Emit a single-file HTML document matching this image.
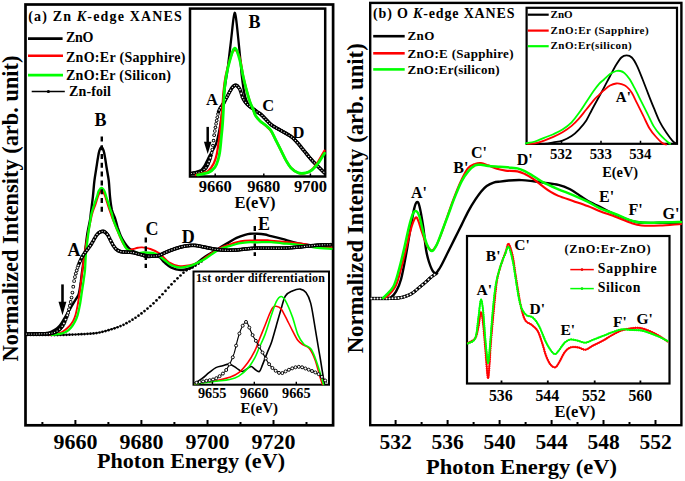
<!DOCTYPE html>
<html><head><meta charset="utf-8"><style>
html,body{margin:0;padding:0;background:#fff;width:685px;height:481px;overflow:hidden}
svg{display:block}
text{font-family:"Liberation Serif",serif;font-weight:bold;fill:#000}
</style></head><body>
<svg width="685" height="481" viewBox="0 0 685 481">
<!-- ===== Y labels ===== -->
<text transform="translate(18,361.5) rotate(-90)" font-size="22.5" textLength="306" lengthAdjust="spacingAndGlyphs">Normalized Intensity (arb. unit)</text>
<text transform="translate(362.5,353.3) rotate(-90)" font-size="22.8" textLength="310" lengthAdjust="spacingAndGlyphs">Normalized Intensity (arb. unit)</text>

<!-- ===== Panel A frame ===== -->
<g id="pa">
<rect x="25.5" y="4.5" width="307.6" height="420.8" fill="none" stroke="#000" stroke-width="2.7"/>
<g stroke="#000" stroke-width="2">
<path d="M42.4 425V422 M75.4 425V420 M108.4 425V422 M141.4 425V420 M174.4 425V422 M207.5 425V420 M240.5 425V422 M273.5 425V420 M306.5 425V422"/>
</g>
<g font-size="22" text-anchor="middle">
<text x="75.4" y="448.5">9660</text><text x="141.4" y="448.5">9680</text><text x="207.5" y="448.5">9700</text><text x="273.5" y="448.5">9720</text>
</g>
<text x="97" y="468" font-size="22" textLength="188" lengthAdjust="spacingAndGlyphs">Photon Energy (eV)</text>
<text x="28.3" y="20.8" font-size="14" textLength="153.5" lengthAdjust="spacing">(a) Zn <tspan font-style="italic">K</tspan>-edge XANES</text>
<g stroke-width="2.6" fill="none">
<path d="M28 38.6H62.6" stroke="#000"/>
<path d="M28 55.8H63" stroke="#f00"/>
<path d="M28 75.1H63" stroke="#0f0"/>
<path d="M31.7 91.5H64.8" stroke="#000" stroke-width="1.6"/>
</g>
<circle cx="48.4" cy="91.5" r="1.6" fill="#000"/>
<g font-size="14">
<text x="66" y="42.4" textLength="27.5">ZnO</text>
<text x="66" y="61.9" textLength="119.5" lengthAdjust="spacing">ZnO:Er (Sapphire)</text>
<text x="66" y="79.9" textLength="105" lengthAdjust="spacing">ZnO:Er (Silicon)</text>
<text x="69" y="96.3" textLength="42" lengthAdjust="spacing">Zn-foil</text>
</g>
<path d="M27.0 335.0C30.0 335.0 39.5 335.0 45.0 335.0C50.5 335.0 53.3 335.2 60.0 335.0C66.7 334.8 78.3 334.4 85.0 334.0C91.7 333.6 94.4 333.6 100.0 332.4C105.6 331.2 115.6 327.7 118.7 326.8" fill="none" stroke="#000" stroke-width="0.9"/><g fill="#000"><circle cx="27.50" cy="335.00" r="1.35"/><circle cx="30.50" cy="335.00" r="1.35"/><circle cx="33.50" cy="335.00" r="1.35"/><circle cx="36.50" cy="335.00" r="1.35"/><circle cx="39.50" cy="335.00" r="1.35"/><circle cx="42.50" cy="335.00" r="1.35"/><circle cx="45.50" cy="335.00" r="1.35"/><circle cx="48.50" cy="335.02" r="1.35"/><circle cx="51.50" cy="335.06" r="1.35"/><circle cx="54.50" cy="335.07" r="1.35"/><circle cx="57.50" cy="335.05" r="1.35"/><circle cx="60.50" cy="334.99" r="1.35"/><circle cx="63.50" cy="334.90" r="1.35"/><circle cx="66.50" cy="334.81" r="1.35"/><circle cx="69.50" cy="334.71" r="1.35"/><circle cx="72.50" cy="334.60" r="1.35"/><circle cx="75.50" cy="334.48" r="1.35"/><circle cx="78.50" cy="334.35" r="1.35"/><circle cx="81.50" cy="334.20" r="1.35"/><circle cx="84.50" cy="334.03" r="1.35"/><circle cx="87.50" cy="333.85" r="1.35"/><circle cx="90.50" cy="333.67" r="1.35"/><circle cx="93.50" cy="333.43" r="1.35"/><circle cx="96.50" cy="333.05" r="1.35"/><circle cx="99.50" cy="332.50" r="1.35"/><circle cx="102.50" cy="331.82" r="1.35"/><circle cx="105.50" cy="331.03" r="1.35"/><circle cx="108.50" cy="330.17" r="1.35"/><circle cx="111.50" cy="329.26" r="1.35"/><circle cx="114.50" cy="328.28" r="1.35"/><circle cx="117.50" cy="327.24" r="1.35"/><circle cx="120.50" cy="326.10" r="1.35"/><circle cx="123.50" cy="324.78" r="1.35"/><circle cx="126.50" cy="323.22" r="1.35"/><circle cx="129.50" cy="321.49" r="1.35"/><circle cx="132.50" cy="319.69" r="1.35"/><circle cx="135.50" cy="317.76" r="1.35"/><circle cx="138.50" cy="315.68" r="1.35"/><circle cx="141.50" cy="313.47" r="1.35"/><circle cx="144.50" cy="311.11" r="1.35"/><circle cx="147.50" cy="308.61" r="1.35"/><circle cx="150.50" cy="306.00" r="1.35"/><circle cx="153.50" cy="303.29" r="1.35"/><circle cx="156.50" cy="300.42" r="1.35"/><circle cx="159.50" cy="297.39" r="1.35"/><circle cx="162.50" cy="294.26" r="1.35"/><circle cx="165.50" cy="290.95" r="1.35"/><circle cx="168.50" cy="287.56" r="1.35"/><circle cx="171.50" cy="284.28" r="1.35"/><circle cx="174.50" cy="281.23" r="1.35"/><circle cx="177.50" cy="278.33" r="1.35"/><circle cx="180.50" cy="275.48" r="1.35"/><circle cx="183.50" cy="272.69" r="1.35"/><circle cx="186.50" cy="270.33" r="1.35"/><circle cx="189.50" cy="268.81" r="1.35"/><circle cx="192.50" cy="267.48" r="1.35"/><circle cx="195.50" cy="265.62" r="1.35"/><circle cx="198.50" cy="263.56" r="1.35"/><circle cx="201.50" cy="261.42" r="1.35"/></g><path d="M26.5 333.8C28.8 333.8 36.8 333.7 40.0 333.6C43.2 333.5 44.3 333.4 46.0 333.2C47.7 333.0 48.8 332.8 50.0 332.4C51.2 332.0 51.8 331.5 53.0 330.8C54.2 330.1 56.1 329.2 57.5 328.0C58.9 326.8 60.0 325.4 61.2 323.6C62.5 321.8 63.8 319.5 65.0 317.4C66.2 315.3 67.5 313.3 68.7 311.2C69.9 309.1 71.2 307.0 72.4 304.9C73.7 302.8 75.2 300.3 76.2 298.7C77.2 297.1 77.8 296.4 78.4 295.0C79.0 293.6 79.2 292.2 79.6 290.0C80.0 287.8 80.3 285.3 80.8 282.0C81.2 278.7 81.6 274.8 82.3 270.0C83.0 265.2 83.9 259.1 84.8 253.0C85.7 246.9 86.5 238.8 87.4 233.3C88.3 227.8 89.4 223.3 90.0 220.0C90.6 216.7 90.3 217.2 90.8 213.3C91.3 209.4 92.3 202.0 92.9 196.6C93.5 191.2 93.8 185.5 94.4 180.8C95.0 176.1 95.7 172.1 96.3 168.3C96.9 164.5 97.4 160.9 97.9 158.0C98.4 155.1 98.8 152.5 99.4 150.7C100.0 148.9 100.8 147.3 101.5 147.3C102.2 147.3 103.0 148.9 103.6 150.7C104.2 152.5 104.6 155.1 105.1 158.0C105.6 160.9 106.1 164.5 106.7 168.3C107.3 172.1 108.2 176.1 108.8 180.8C109.3 185.5 109.5 191.7 110.0 196.6C110.5 201.5 111.1 206.4 111.9 210.0C112.8 213.6 114.1 215.4 115.1 218.3C116.1 221.2 116.8 224.8 117.7 227.7C118.7 230.6 119.6 233.4 120.8 236.0C122.0 238.6 123.5 241.1 124.9 243.2C126.3 245.3 127.7 247.1 129.1 248.4C130.5 249.7 131.4 250.1 133.2 251.0C135.0 251.9 137.9 252.6 140.0 253.6C142.1 254.6 143.2 256.5 145.7 257.0C148.2 257.5 152.7 256.4 155.0 256.5C157.3 256.6 158.1 256.3 159.7 257.3C161.3 258.3 162.4 260.7 164.4 262.4C166.4 264.1 168.7 266.3 171.4 267.6C174.1 268.9 177.6 269.9 180.7 270.0C183.8 270.1 187.7 269.1 190.1 268.2C192.5 267.3 192.4 266.4 195.0 264.5C197.6 262.6 201.9 259.0 205.4 256.6C208.9 254.3 213.0 252.1 215.8 250.4C218.6 248.7 219.8 247.6 222.0 246.2C224.2 244.8 226.9 243.5 229.3 242.1C231.7 240.7 234.0 239.1 236.6 237.9C239.2 236.7 242.7 235.5 245.0 234.8C247.3 234.1 248.1 233.9 250.2 233.7C252.3 233.5 254.9 233.6 257.4 233.7C259.9 233.8 262.7 234.1 265.0 234.5C267.3 234.9 268.2 235.4 271.1 236.1C274.0 236.8 278.5 237.9 282.2 238.9C285.9 239.9 289.6 241.3 293.3 242.2C297.0 243.1 300.7 243.8 304.4 244.4C308.1 245.0 311.0 245.4 315.5 245.5C320.0 245.6 328.8 245.1 331.5 245.0" fill="none" stroke="#000" stroke-width="2.4" stroke-linejoin="round" stroke-linecap="round"/><path d="M50.0 334.6C51.0 334.5 54.3 334.1 56.0 333.8C57.7 333.5 58.5 333.6 60.0 333.0C61.5 332.4 63.5 331.0 65.0 329.9C66.5 328.8 68.0 327.6 69.3 326.1C70.6 324.6 72.0 323.0 73.0 321.1C74.0 319.2 74.7 317.6 75.5 314.9C76.3 312.2 77.0 308.6 77.7 304.9C78.4 301.2 79.1 296.6 79.7 292.5C80.3 288.4 80.7 283.8 81.2 280.0C81.7 276.2 81.9 274.5 82.5 270.0C83.1 265.5 83.8 258.7 84.6 253.0C85.4 247.3 86.8 240.5 87.6 236.0C88.4 231.5 88.9 228.8 89.5 226.0C90.1 223.2 90.5 221.2 91.0 219.0C91.5 216.8 91.8 214.9 92.6 212.5C93.3 210.1 94.5 207.4 95.5 204.5C96.5 201.6 97.5 197.3 98.5 195.0C99.5 192.7 100.6 190.5 101.6 190.5C102.6 190.5 103.7 192.9 104.6 195.0C105.5 197.1 106.3 200.2 107.2 203.0C108.1 205.8 109.0 208.7 110.0 211.5C111.0 214.3 111.8 216.8 113.0 220.0C114.2 223.2 116.1 227.6 117.5 231.0C118.9 234.4 120.3 237.9 121.6 240.5C122.8 243.1 123.9 244.9 125.0 246.5C126.1 248.1 126.7 249.6 128.1 250.0C129.5 250.4 131.5 249.4 133.2 249.0C134.8 248.6 136.5 248.1 138.0 247.8C139.5 247.5 140.1 247.2 142.2 247.4C144.3 247.6 147.5 248.0 150.4 249.0C153.3 250.0 156.6 251.4 159.7 253.6C162.8 255.8 165.9 260.3 169.0 262.4C172.1 264.4 174.9 265.4 178.4 265.9C181.9 266.4 186.5 266.0 190.1 265.3C193.7 264.6 197.4 262.8 200.0 261.5C202.6 260.2 202.8 259.3 205.4 257.5C208.0 255.7 213.0 252.2 215.8 250.5C218.6 248.8 219.8 248.2 222.0 247.2C224.2 246.2 226.2 245.6 229.3 244.6C232.4 243.6 237.0 242.0 240.8 241.3C244.6 240.6 248.2 240.6 252.2 240.4C256.2 240.2 261.9 240.1 265.0 240.1C268.1 240.1 266.4 240.3 271.1 240.7C275.8 241.1 287.4 242.1 293.3 242.7C299.2 243.3 302.5 243.7 306.6 244.4C310.7 245.1 313.6 246.5 317.7 247.0C321.8 247.5 329.2 247.2 331.5 247.3" fill="none" stroke="#f00" stroke-width="1.9" stroke-linejoin="round" stroke-linecap="round"/><path d="M52.0 334.8C53.3 334.6 57.6 334.4 60.0 333.9C62.4 333.4 64.3 332.8 66.2 331.7C68.1 330.6 69.8 329.0 71.2 327.4C72.7 325.8 73.8 323.9 74.9 321.8C76.0 319.7 76.9 317.7 77.7 314.9C78.5 312.1 79.2 308.6 79.9 304.9C80.6 301.2 81.2 296.6 81.8 292.5C82.4 288.4 83.2 283.8 83.7 280.0C84.2 276.2 84.6 274.5 85.0 270.0C85.4 265.5 85.4 259.2 86.0 253.0C86.6 246.8 87.7 238.5 88.4 233.0C89.1 227.5 89.9 223.3 90.4 220.0C90.9 216.7 91.0 215.8 91.6 213.3C92.2 210.8 93.2 207.8 94.1 205.0C95.0 202.2 96.2 199.0 97.0 196.6C97.8 194.2 98.0 192.2 98.8 190.8C99.6 189.4 100.7 187.9 101.6 187.9C102.5 187.9 103.6 189.6 104.4 191.0C105.2 192.4 105.5 194.4 106.2 196.6C106.9 198.8 107.9 201.8 108.6 204.0C109.3 206.2 109.9 208.3 110.5 210.0C111.1 211.7 111.5 212.3 112.0 214.0C112.5 215.7 112.5 217.6 113.5 220.4C114.5 223.2 116.3 227.5 117.7 230.8C119.1 234.1 120.6 237.5 121.8 240.1C123.0 242.7 124.0 244.8 124.9 246.4C125.9 248.0 126.5 248.7 127.5 249.5C128.5 250.3 129.3 250.9 131.0 251.5C132.7 252.1 135.4 252.8 137.5 253.0C139.6 253.2 140.9 252.5 143.4 252.5C145.9 252.5 150.2 252.5 152.7 253.0C155.2 253.5 156.6 254.2 158.5 255.4C160.4 256.6 162.2 258.4 164.4 260.0C166.6 261.6 168.7 264.0 171.4 265.3C174.1 266.6 177.6 267.5 180.7 267.6C183.8 267.7 187.7 266.5 190.1 265.9C192.5 265.3 192.4 265.1 195.0 263.9C197.6 262.7 201.9 260.8 205.4 258.7C208.9 256.6 213.0 253.1 215.8 251.4C218.6 249.7 219.8 249.2 222.0 248.3C224.2 247.4 226.5 247.0 229.3 246.2C232.1 245.4 235.8 244.0 238.7 243.3C241.6 242.7 243.9 242.5 247.0 242.3C250.1 242.1 254.4 242.3 257.4 242.3C260.4 242.3 262.7 242.1 265.0 242.1C267.3 242.1 268.2 242.0 271.1 242.2C274.0 242.4 278.5 243.0 282.2 243.3C285.9 243.6 289.6 243.7 293.3 244.1C297.0 244.5 300.7 244.9 304.4 245.5C308.1 246.1 311.0 247.1 315.5 247.7C320.0 248.3 328.8 248.7 331.5 248.9" fill="none" stroke="#0f0" stroke-width="2.3" stroke-linejoin="round" stroke-linecap="round"/><g fill="#000"><circle cx="26.50" cy="334.00" r="1.85"/><circle cx="27.35" cy="334.00" r="1.85"/><circle cx="28.20" cy="333.99" r="1.85"/><circle cx="29.05" cy="333.99" r="1.85"/><circle cx="29.90" cy="333.99" r="1.85"/><circle cx="30.75" cy="333.98" r="1.85"/><circle cx="31.60" cy="333.98" r="1.85"/><circle cx="32.45" cy="333.98" r="1.85"/><circle cx="33.30" cy="333.97" r="1.85"/><circle cx="34.15" cy="333.97" r="1.85"/><circle cx="35.00" cy="333.96" r="1.85"/><circle cx="35.85" cy="333.96" r="1.85"/><circle cx="36.70" cy="333.95" r="1.85"/><circle cx="37.55" cy="333.94" r="1.85"/><circle cx="38.40" cy="333.93" r="1.85"/><circle cx="39.25" cy="333.91" r="1.85"/><circle cx="40.10" cy="333.90" r="1.85"/><circle cx="40.95" cy="333.88" r="1.85"/><circle cx="41.80" cy="333.86" r="1.85"/><circle cx="42.65" cy="333.83" r="1.85"/><circle cx="43.50" cy="333.80" r="1.85"/><circle cx="44.35" cy="333.77" r="1.85"/><circle cx="45.20" cy="333.74" r="1.85"/><circle cx="46.05" cy="333.69" r="1.85"/><circle cx="46.90" cy="333.64" r="1.85"/><circle cx="47.75" cy="333.58" r="1.85"/><circle cx="48.60" cy="333.51" r="1.85"/><circle cx="49.45" cy="333.42" r="1.85"/><circle cx="50.30" cy="333.32" r="1.85"/><circle cx="51.15" cy="333.20" r="1.85"/><circle cx="52.00" cy="333.04" r="1.85"/><circle cx="52.85" cy="332.84" r="1.85"/><circle cx="53.70" cy="332.60" r="1.85"/><circle cx="54.55" cy="332.31" r="1.85"/><circle cx="55.40" cy="331.96" r="1.85"/><circle cx="56.25" cy="331.54" r="1.85"/><circle cx="57.10" cy="331.05" r="1.85"/><circle cx="57.95" cy="330.50" r="1.85"/><circle cx="58.80" cy="329.87" r="1.85"/><circle cx="59.65" cy="329.14" r="1.85"/><circle cx="60.50" cy="328.30" r="1.85"/><circle cx="61.35" cy="327.35" r="1.85"/><circle cx="62.20" cy="326.25" r="1.85"/><circle cx="63.05" cy="324.98" r="1.85"/><circle cx="63.90" cy="323.46" r="1.85"/><circle cx="64.75" cy="321.66" r="1.85"/><circle cx="65.60" cy="319.60" r="1.85"/><circle cx="66.45" cy="317.27" r="1.85"/><circle cx="67.30" cy="315.19" r="1.85"/><circle cx="68.15" cy="312.84" r="1.85"/><circle cx="69.00" cy="309.33" r="1.85"/><circle cx="69.85" cy="305.70" r="1.85"/><circle cx="70.70" cy="301.92" r="1.85"/><circle cx="71.55" cy="297.58" r="1.85"/><circle cx="72.40" cy="292.57" r="1.85"/><circle cx="73.25" cy="286.63" r="1.85"/><circle cx="74.10" cy="280.99" r="1.85"/><circle cx="74.95" cy="277.05" r="1.85"/><circle cx="75.80" cy="273.54" r="1.85"/><circle cx="76.65" cy="270.50" r="1.85"/><circle cx="77.50" cy="267.83" r="1.85"/><circle cx="78.35" cy="265.41" r="1.85"/><circle cx="79.20" cy="263.22" r="1.85"/><circle cx="80.05" cy="261.21" r="1.85"/><circle cx="80.90" cy="259.31" r="1.85"/><circle cx="81.75" cy="257.62" r="1.85"/><circle cx="82.60" cy="256.13" r="1.85"/><circle cx="83.45" cy="254.77" r="1.85"/><circle cx="84.30" cy="253.54" r="1.85"/><circle cx="85.15" cy="252.39" r="1.85"/><circle cx="86.00" cy="251.28" r="1.85"/><circle cx="86.85" cy="250.19" r="1.85"/><circle cx="87.70" cy="249.10" r="1.85"/><circle cx="88.55" cy="248.00" r="1.85"/><circle cx="89.40" cy="246.87" r="1.85"/><circle cx="90.25" cy="245.70" r="1.85"/><circle cx="91.10" cy="244.45" r="1.85"/><circle cx="91.95" cy="243.07" r="1.85"/><circle cx="92.80" cy="241.59" r="1.85"/><circle cx="93.65" cy="240.06" r="1.85"/><circle cx="94.50" cy="238.53" r="1.85"/><circle cx="95.35" cy="237.05" r="1.85"/><circle cx="96.20" cy="235.69" r="1.85"/><circle cx="97.05" cy="234.51" r="1.85"/><circle cx="97.90" cy="233.58" r="1.85"/><circle cx="98.75" cy="232.83" r="1.85"/><circle cx="99.60" cy="232.25" r="1.85"/><circle cx="100.45" cy="231.81" r="1.85"/><circle cx="101.30" cy="231.51" r="1.85"/><circle cx="102.15" cy="231.34" r="1.85"/><circle cx="103.00" cy="231.30" r="1.85"/><circle cx="103.85" cy="231.43" r="1.85"/><circle cx="104.70" cy="231.83" r="1.85"/><circle cx="105.55" cy="232.48" r="1.85"/><circle cx="106.40" cy="233.35" r="1.85"/><circle cx="107.25" cy="234.34" r="1.85"/><circle cx="108.10" cy="235.55" r="1.85"/><circle cx="108.95" cy="237.15" r="1.85"/><circle cx="109.80" cy="238.92" r="1.85"/><circle cx="110.65" cy="240.57" r="1.85"/><circle cx="111.50" cy="242.20" r="1.85"/><circle cx="112.35" cy="243.83" r="1.85"/><circle cx="113.20" cy="245.33" r="1.85"/><circle cx="114.05" cy="246.62" r="1.85"/><circle cx="114.90" cy="247.77" r="1.85"/><circle cx="115.75" cy="248.74" r="1.85"/><circle cx="116.60" cy="249.50" r="1.85"/><circle cx="117.45" cy="250.12" r="1.85"/><circle cx="118.30" cy="250.64" r="1.85"/><circle cx="119.15" cy="251.05" r="1.85"/><circle cx="120.00" cy="251.37" r="1.85"/><circle cx="120.85" cy="251.61" r="1.85"/><circle cx="121.70" cy="251.77" r="1.85"/><circle cx="122.55" cy="251.87" r="1.85"/><circle cx="123.40" cy="251.93" r="1.85"/><circle cx="124.25" cy="251.97" r="1.85"/><circle cx="125.10" cy="252.00" r="1.85"/><circle cx="125.95" cy="252.04" r="1.85"/><circle cx="126.80" cy="252.08" r="1.85"/><circle cx="127.65" cy="252.15" r="1.85"/><circle cx="128.50" cy="252.19" r="1.85"/><circle cx="129.35" cy="252.23" r="1.85"/><circle cx="130.20" cy="252.27" r="1.85"/><circle cx="131.05" cy="252.33" r="1.85"/><circle cx="131.90" cy="252.41" r="1.85"/><circle cx="132.75" cy="252.52" r="1.85"/><circle cx="133.60" cy="252.68" r="1.85"/><circle cx="134.45" cy="252.86" r="1.85"/><circle cx="135.30" cy="253.08" r="1.85"/><circle cx="136.15" cy="253.31" r="1.85"/><circle cx="137.00" cy="253.55" r="1.85"/><circle cx="137.85" cy="253.79" r="1.85"/><circle cx="138.70" cy="254.03" r="1.85"/><circle cx="139.55" cy="254.26" r="1.85"/><circle cx="140.40" cy="254.47" r="1.85"/><circle cx="141.25" cy="254.65" r="1.85"/><circle cx="142.10" cy="254.84" r="1.85"/><circle cx="142.95" cy="255.03" r="1.85"/><circle cx="143.80" cy="255.21" r="1.85"/><circle cx="144.65" cy="255.39" r="1.85"/><circle cx="145.50" cy="255.56" r="1.85"/><circle cx="146.35" cy="255.70" r="1.85"/><circle cx="147.20" cy="255.82" r="1.85"/><circle cx="148.05" cy="255.92" r="1.85"/><circle cx="148.90" cy="255.98" r="1.85"/><circle cx="149.75" cy="256.02" r="1.85"/><circle cx="150.60" cy="256.05" r="1.85"/><circle cx="151.45" cy="256.06" r="1.85"/><circle cx="152.30" cy="256.05" r="1.85"/><circle cx="153.15" cy="256.04" r="1.85"/><circle cx="154.00" cy="256.00" r="1.85"/><circle cx="154.85" cy="255.94" r="1.85"/><circle cx="155.70" cy="255.86" r="1.85"/><circle cx="156.55" cy="255.76" r="1.85"/><circle cx="157.40" cy="255.62" r="1.85"/><circle cx="158.25" cy="255.46" r="1.85"/><circle cx="159.10" cy="255.24" r="1.85"/><circle cx="159.95" cy="254.97" r="1.85"/><circle cx="160.80" cy="254.65" r="1.85"/><circle cx="161.65" cy="254.28" r="1.85"/><circle cx="162.50" cy="253.88" r="1.85"/><circle cx="163.35" cy="253.46" r="1.85"/><circle cx="164.20" cy="253.03" r="1.85"/><circle cx="165.05" cy="252.62" r="1.85"/><circle cx="165.90" cy="252.24" r="1.85"/><circle cx="166.75" cy="251.88" r="1.85"/><circle cx="167.60" cy="251.54" r="1.85"/><circle cx="168.45" cy="251.20" r="1.85"/><circle cx="169.30" cy="250.87" r="1.85"/><circle cx="170.15" cy="250.54" r="1.85"/><circle cx="171.00" cy="250.21" r="1.85"/><circle cx="171.85" cy="249.89" r="1.85"/><circle cx="172.70" cy="249.57" r="1.85"/><circle cx="173.55" cy="249.26" r="1.85"/><circle cx="174.40" cy="248.96" r="1.85"/><circle cx="175.25" cy="248.68" r="1.85"/><circle cx="176.10" cy="248.40" r="1.85"/><circle cx="176.95" cy="248.13" r="1.85"/><circle cx="177.80" cy="247.87" r="1.85"/><circle cx="178.65" cy="247.61" r="1.85"/><circle cx="179.50" cy="247.37" r="1.85"/><circle cx="180.35" cy="247.13" r="1.85"/><circle cx="181.20" cy="246.90" r="1.85"/><circle cx="182.05" cy="246.69" r="1.85"/><circle cx="182.90" cy="246.49" r="1.85"/><circle cx="183.75" cy="246.30" r="1.85"/><circle cx="184.60" cy="246.14" r="1.85"/><circle cx="185.45" cy="245.99" r="1.85"/><circle cx="186.30" cy="245.86" r="1.85"/><circle cx="187.15" cy="245.74" r="1.85"/><circle cx="188.00" cy="245.63" r="1.85"/><circle cx="188.85" cy="245.53" r="1.85"/><circle cx="189.70" cy="245.46" r="1.85"/><circle cx="190.55" cy="245.40" r="1.85"/><circle cx="191.40" cy="245.35" r="1.85"/><circle cx="192.25" cy="245.33" r="1.85"/><circle cx="193.10" cy="245.33" r="1.85"/><circle cx="193.95" cy="245.36" r="1.85"/><circle cx="194.80" cy="245.40" r="1.85"/><circle cx="195.65" cy="245.47" r="1.85"/><circle cx="196.50" cy="245.57" r="1.85"/><circle cx="197.35" cy="245.69" r="1.85"/><circle cx="198.20" cy="245.84" r="1.85"/><circle cx="199.05" cy="245.99" r="1.85"/><circle cx="199.90" cy="246.16" r="1.85"/><circle cx="200.75" cy="246.34" r="1.85"/><circle cx="201.60" cy="246.52" r="1.85"/><circle cx="202.45" cy="246.70" r="1.85"/><circle cx="203.30" cy="246.88" r="1.85"/><circle cx="204.15" cy="247.06" r="1.85"/><circle cx="205.00" cy="247.22" r="1.85"/><circle cx="205.85" cy="247.38" r="1.85"/><circle cx="206.70" cy="247.55" r="1.85"/><circle cx="207.55" cy="247.72" r="1.85"/><circle cx="208.40" cy="247.90" r="1.85"/><circle cx="209.25" cy="248.08" r="1.85"/><circle cx="210.10" cy="248.26" r="1.85"/><circle cx="210.95" cy="248.43" r="1.85"/><circle cx="211.80" cy="248.60" r="1.85"/><circle cx="212.65" cy="248.77" r="1.85"/><circle cx="213.50" cy="248.93" r="1.85"/><circle cx="214.35" cy="249.08" r="1.85"/><circle cx="215.20" cy="249.21" r="1.85"/><circle cx="216.05" cy="249.33" r="1.85"/><circle cx="216.90" cy="249.45" r="1.85"/><circle cx="217.75" cy="249.55" r="1.85"/><circle cx="218.60" cy="249.65" r="1.85"/><circle cx="219.45" cy="249.75" r="1.85"/><circle cx="220.30" cy="249.83" r="1.85"/><circle cx="221.15" cy="249.91" r="1.85"/><circle cx="222.00" cy="249.98" r="1.85"/><circle cx="222.85" cy="250.04" r="1.85"/><circle cx="223.70" cy="250.09" r="1.85"/><circle cx="224.55" cy="250.14" r="1.85"/><circle cx="225.40" cy="250.17" r="1.85"/><circle cx="226.25" cy="250.20" r="1.85"/><circle cx="227.10" cy="250.22" r="1.85"/><circle cx="227.95" cy="250.23" r="1.85"/><circle cx="228.80" cy="250.23" r="1.85"/><circle cx="229.65" cy="250.22" r="1.85"/><circle cx="230.50" cy="250.20" r="1.85"/><circle cx="231.35" cy="250.18" r="1.85"/><circle cx="232.20" cy="250.15" r="1.85"/><circle cx="233.05" cy="250.11" r="1.85"/><circle cx="233.90" cy="250.06" r="1.85"/><circle cx="234.75" cy="250.02" r="1.85"/><circle cx="235.60" cy="249.97" r="1.85"/><circle cx="236.45" cy="249.91" r="1.85"/><circle cx="237.30" cy="249.85" r="1.85"/><circle cx="238.15" cy="249.78" r="1.85"/><circle cx="239.00" cy="249.69" r="1.85"/><circle cx="239.85" cy="249.60" r="1.85"/><circle cx="240.70" cy="249.51" r="1.85"/><circle cx="241.55" cy="249.40" r="1.85"/><circle cx="242.40" cy="249.30" r="1.85"/><circle cx="243.25" cy="249.20" r="1.85"/><circle cx="244.10" cy="249.10" r="1.85"/><circle cx="244.95" cy="249.00" r="1.85"/><circle cx="245.80" cy="248.91" r="1.85"/><circle cx="246.65" cy="248.83" r="1.85"/><circle cx="247.50" cy="248.76" r="1.85"/><circle cx="248.35" cy="248.67" r="1.85"/><circle cx="249.20" cy="248.59" r="1.85"/><circle cx="250.05" cy="248.50" r="1.85"/><circle cx="250.90" cy="248.42" r="1.85"/><circle cx="251.75" cy="248.34" r="1.85"/><circle cx="252.60" cy="248.28" r="1.85"/><circle cx="253.45" cy="248.23" r="1.85"/><circle cx="254.30" cy="248.19" r="1.85"/><circle cx="255.15" cy="248.16" r="1.85"/><circle cx="256.00" cy="248.13" r="1.85"/><circle cx="256.85" cy="248.11" r="1.85"/><circle cx="257.70" cy="248.09" r="1.85"/><circle cx="258.55" cy="248.08" r="1.85"/><circle cx="259.40" cy="248.08" r="1.85"/><circle cx="260.25" cy="248.07" r="1.85"/><circle cx="261.10" cy="248.07" r="1.85"/><circle cx="261.95" cy="248.07" r="1.85"/><circle cx="262.80" cy="248.07" r="1.85"/><circle cx="263.65" cy="248.07" r="1.85"/><circle cx="264.50" cy="248.08" r="1.85"/><circle cx="265.35" cy="248.08" r="1.85"/><circle cx="266.20" cy="248.09" r="1.85"/><circle cx="267.05" cy="248.09" r="1.85"/><circle cx="267.90" cy="248.10" r="1.85"/><circle cx="268.75" cy="248.11" r="1.85"/><circle cx="269.60" cy="248.11" r="1.85"/><circle cx="270.45" cy="248.12" r="1.85"/><circle cx="271.30" cy="248.12" r="1.85"/><circle cx="272.15" cy="248.13" r="1.85"/><circle cx="273.00" cy="248.13" r="1.85"/><circle cx="273.85" cy="248.14" r="1.85"/><circle cx="274.70" cy="248.14" r="1.85"/><circle cx="275.55" cy="248.15" r="1.85"/><circle cx="276.40" cy="248.15" r="1.85"/><circle cx="277.25" cy="248.15" r="1.85"/><circle cx="278.10" cy="248.15" r="1.85"/><circle cx="278.95" cy="248.14" r="1.85"/><circle cx="279.80" cy="248.14" r="1.85"/><circle cx="280.65" cy="248.13" r="1.85"/><circle cx="281.50" cy="248.11" r="1.85"/><circle cx="282.35" cy="248.10" r="1.85"/><circle cx="283.20" cy="248.07" r="1.85"/><circle cx="284.05" cy="248.05" r="1.85"/><circle cx="284.90" cy="248.02" r="1.85"/><circle cx="285.75" cy="247.98" r="1.85"/><circle cx="286.60" cy="247.94" r="1.85"/><circle cx="287.45" cy="247.90" r="1.85"/><circle cx="288.30" cy="247.85" r="1.85"/><circle cx="289.15" cy="247.80" r="1.85"/><circle cx="290.00" cy="247.74" r="1.85"/><circle cx="290.85" cy="247.67" r="1.85"/><circle cx="291.70" cy="247.61" r="1.85"/><circle cx="292.55" cy="247.54" r="1.85"/><circle cx="293.40" cy="247.47" r="1.85"/><circle cx="294.25" cy="247.39" r="1.85"/><circle cx="295.10" cy="247.32" r="1.85"/><circle cx="295.95" cy="247.25" r="1.85"/><circle cx="296.80" cy="247.18" r="1.85"/><circle cx="297.65" cy="247.11" r="1.85"/><circle cx="298.50" cy="247.04" r="1.85"/><circle cx="299.35" cy="246.96" r="1.85"/><circle cx="300.20" cy="246.88" r="1.85"/><circle cx="301.05" cy="246.79" r="1.85"/><circle cx="301.90" cy="246.70" r="1.85"/><circle cx="302.75" cy="246.61" r="1.85"/><circle cx="303.60" cy="246.52" r="1.85"/><circle cx="304.45" cy="246.43" r="1.85"/><circle cx="305.30" cy="246.34" r="1.85"/><circle cx="306.15" cy="246.25" r="1.85"/><circle cx="307.00" cy="246.17" r="1.85"/><circle cx="307.85" cy="246.09" r="1.85"/><circle cx="308.70" cy="246.00" r="1.85"/><circle cx="309.55" cy="245.92" r="1.85"/><circle cx="310.40" cy="245.84" r="1.85"/><circle cx="311.25" cy="245.75" r="1.85"/><circle cx="312.10" cy="245.67" r="1.85"/><circle cx="312.95" cy="245.58" r="1.85"/><circle cx="313.80" cy="245.50" r="1.85"/><circle cx="314.65" cy="245.42" r="1.85"/><circle cx="315.50" cy="245.34" r="1.85"/><circle cx="316.35" cy="245.27" r="1.85"/><circle cx="317.20" cy="245.20" r="1.85"/><circle cx="318.05" cy="245.13" r="1.85"/><circle cx="318.90" cy="245.07" r="1.85"/><circle cx="319.75" cy="245.02" r="1.85"/><circle cx="320.60" cy="244.97" r="1.85"/><circle cx="321.45" cy="244.93" r="1.85"/><circle cx="322.30" cy="244.89" r="1.85"/><circle cx="323.15" cy="244.86" r="1.85"/><circle cx="324.00" cy="244.84" r="1.85"/><circle cx="324.85" cy="244.82" r="1.85"/><circle cx="325.70" cy="244.80" r="1.85"/><circle cx="326.55" cy="244.78" r="1.85"/><circle cx="327.40" cy="244.77" r="1.85"/><circle cx="328.25" cy="244.75" r="1.85"/><circle cx="329.10" cy="244.74" r="1.85"/><circle cx="329.95" cy="244.73" r="1.85"/><circle cx="330.80" cy="244.71" r="1.85"/></g><g fill="#fff"><circle cx="26.50" cy="334.00" r="0.55"/><circle cx="29.05" cy="333.99" r="0.55"/><circle cx="31.60" cy="333.98" r="0.55"/><circle cx="34.15" cy="333.97" r="0.55"/><circle cx="36.70" cy="333.95" r="0.55"/><circle cx="39.25" cy="333.91" r="0.55"/><circle cx="41.80" cy="333.86" r="0.55"/><circle cx="44.35" cy="333.77" r="0.56"/><circle cx="46.90" cy="333.64" r="0.56"/><circle cx="49.45" cy="333.42" r="0.57"/><circle cx="52.00" cy="333.04" r="0.58"/><circle cx="54.55" cy="332.31" r="0.61"/><circle cx="57.10" cy="331.05" r="0.64"/><circle cx="59.65" cy="329.14" r="0.69"/><circle cx="62.20" cy="326.25" r="0.76"/><circle cx="63.90" cy="323.46" r="0.84"/><circle cx="65.60" cy="319.60" r="0.94"/><circle cx="67.30" cy="315.19" r="0.94"/><circle cx="68.15" cy="312.84" r="1.00"/><circle cx="69.00" cy="309.33" r="1.00"/><circle cx="69.85" cy="305.70" r="1.00"/><circle cx="70.70" cy="301.92" r="1.00"/><circle cx="71.55" cy="297.58" r="1.00"/><circle cx="72.40" cy="292.57" r="1.00"/><circle cx="73.25" cy="286.63" r="1.00"/><circle cx="74.10" cy="280.99" r="1.00"/><circle cx="74.95" cy="277.05" r="1.00"/><circle cx="75.80" cy="273.54" r="1.00"/><circle cx="76.65" cy="270.50" r="1.00"/><circle cx="77.50" cy="267.83" r="1.00"/><circle cx="78.35" cy="265.41" r="0.96"/><circle cx="80.05" cy="261.21" r="0.90"/><circle cx="81.75" cy="257.62" r="0.83"/><circle cx="83.45" cy="254.77" r="0.78"/><circle cx="85.15" cy="252.39" r="0.75"/><circle cx="86.85" cy="250.19" r="0.74"/><circle cx="88.55" cy="248.00" r="0.75"/><circle cx="90.25" cy="245.70" r="0.76"/><circle cx="91.95" cy="243.07" r="0.80"/><circle cx="93.65" cy="240.06" r="0.82"/><circle cx="95.35" cy="237.05" r="0.80"/><circle cx="97.05" cy="234.51" r="0.74"/><circle cx="99.60" cy="232.25" r="0.64"/><circle cx="102.15" cy="231.34" r="0.57"/><circle cx="104.70" cy="231.83" r="0.64"/><circle cx="107.25" cy="234.34" r="0.74"/><circle cx="108.95" cy="237.15" r="0.85"/><circle cx="110.65" cy="240.57" r="0.84"/><circle cx="112.35" cy="243.83" r="0.83"/><circle cx="114.05" cy="246.62" r="0.77"/><circle cx="115.75" cy="248.74" r="0.70"/><circle cx="118.30" cy="250.64" r="0.63"/><circle cx="120.85" cy="251.61" r="0.59"/><circle cx="123.40" cy="251.93" r="0.56"/><circle cx="125.95" cy="252.04" r="0.56"/><circle cx="128.50" cy="252.19" r="0.56"/><circle cx="131.05" cy="252.33" r="0.56"/><circle cx="133.60" cy="252.68" r="0.58"/><circle cx="136.15" cy="253.31" r="0.59"/><circle cx="138.70" cy="254.03" r="0.59"/><circle cx="141.25" cy="254.65" r="0.58"/><circle cx="143.80" cy="255.21" r="0.58"/><circle cx="146.35" cy="255.70" r="0.57"/><circle cx="148.90" cy="255.98" r="0.56"/><circle cx="151.45" cy="256.06" r="0.55"/><circle cx="154.00" cy="256.00" r="0.56"/><circle cx="156.55" cy="255.76" r="0.57"/><circle cx="159.10" cy="255.24" r="0.59"/><circle cx="161.65" cy="254.28" r="0.62"/><circle cx="164.20" cy="253.03" r="0.62"/><circle cx="166.75" cy="251.88" r="0.61"/><circle cx="169.30" cy="250.87" r="0.61"/><circle cx="171.85" cy="249.89" r="0.61"/><circle cx="174.40" cy="248.96" r="0.60"/><circle cx="176.95" cy="248.13" r="0.60"/><circle cx="179.50" cy="247.37" r="0.59"/><circle cx="182.05" cy="246.69" r="0.59"/><circle cx="184.60" cy="246.14" r="0.58"/><circle cx="187.15" cy="245.74" r="0.57"/><circle cx="189.70" cy="245.46" r="0.56"/><circle cx="192.25" cy="245.33" r="0.55"/><circle cx="194.80" cy="245.40" r="0.56"/><circle cx="197.35" cy="245.69" r="0.57"/><circle cx="199.90" cy="246.16" r="0.58"/><circle cx="202.45" cy="246.70" r="0.58"/><circle cx="205.00" cy="247.22" r="0.58"/><circle cx="207.55" cy="247.72" r="0.58"/><circle cx="210.10" cy="248.26" r="0.58"/><circle cx="212.65" cy="248.77" r="0.58"/><circle cx="215.20" cy="249.21" r="0.57"/><circle cx="217.75" cy="249.55" r="0.57"/><circle cx="220.30" cy="249.83" r="0.56"/><circle cx="222.85" cy="250.04" r="0.56"/><circle cx="225.40" cy="250.17" r="0.56"/><circle cx="227.95" cy="250.23" r="0.55"/><circle cx="230.50" cy="250.20" r="0.55"/><circle cx="233.05" cy="250.11" r="0.56"/><circle cx="235.60" cy="249.97" r="0.56"/><circle cx="238.15" cy="249.78" r="0.56"/><circle cx="240.70" cy="249.51" r="0.57"/><circle cx="243.25" cy="249.20" r="0.57"/><circle cx="245.80" cy="248.91" r="0.57"/><circle cx="248.35" cy="248.67" r="0.56"/><circle cx="250.90" cy="248.42" r="0.56"/><circle cx="253.45" cy="248.23" r="0.56"/><circle cx="256.00" cy="248.13" r="0.55"/><circle cx="258.55" cy="248.08" r="0.55"/><circle cx="261.10" cy="248.07" r="0.55"/><circle cx="263.65" cy="248.07" r="0.55"/><circle cx="266.20" cy="248.09" r="0.55"/><circle cx="268.75" cy="248.11" r="0.55"/><circle cx="271.30" cy="248.12" r="0.55"/><circle cx="273.85" cy="248.14" r="0.55"/><circle cx="276.40" cy="248.15" r="0.55"/><circle cx="278.95" cy="248.14" r="0.55"/><circle cx="281.50" cy="248.11" r="0.55"/><circle cx="284.05" cy="248.05" r="0.55"/><circle cx="286.60" cy="247.94" r="0.56"/><circle cx="289.15" cy="247.80" r="0.56"/><circle cx="291.70" cy="247.61" r="0.56"/><circle cx="294.25" cy="247.39" r="0.56"/><circle cx="296.80" cy="247.18" r="0.56"/><circle cx="299.35" cy="246.96" r="0.56"/><circle cx="301.90" cy="246.70" r="0.57"/><circle cx="304.45" cy="246.43" r="0.57"/><circle cx="307.00" cy="246.17" r="0.56"/><circle cx="309.55" cy="245.92" r="0.56"/><circle cx="312.10" cy="245.67" r="0.56"/><circle cx="314.65" cy="245.42" r="0.56"/><circle cx="317.20" cy="245.20" r="0.56"/><circle cx="319.75" cy="245.02" r="0.56"/><circle cx="322.30" cy="244.89" r="0.56"/><circle cx="324.85" cy="244.82" r="0.55"/><circle cx="327.40" cy="244.77" r="0.55"/><circle cx="329.95" cy="244.73" r="0.55"/></g><path d="M62.5 284.4V304" stroke="#000" stroke-width="2.6"/><path d="M58.5 301.8L62.5 315.2L66.4 301.8Z" fill="#000"/>
<g font-size="18">
<text x="94.5" y="126.3">B</text>
<text x="67.5" y="255.5">A</text>
<text x="145.5" y="234.5">C</text>
<text x="181.8" y="243.2">D</text>
<text x="258" y="230">E</text>
</g>
<g stroke="#000" stroke-width="2.4" stroke-dasharray="5 3.8">
<path d="M101.8 136.4V213"/>
<path d="M145.8 237.4V268"/>
<path d="M254.8 225.9V256"/>
</g>
</g>

<!-- ===== Inset A1 ===== -->
<g id="ia1">
<rect x="190" y="8.6" width="135.2" height="167.9" fill="#fff" stroke="#000" stroke-width="2.5"/>
<path d="M191.5 173.6C192.3 173.3 194.6 172.4 196.2 171.8C197.8 171.2 199.8 170.8 201.2 169.9C202.5 169.0 203.4 167.6 204.3 166.2C205.2 164.8 205.9 163.1 206.8 161.2C207.8 159.3 208.9 156.8 210.0 154.9C211.1 153.0 212.2 151.6 213.1 149.9C214.0 148.2 214.9 146.7 215.6 145.0C216.3 143.3 216.6 142.2 217.2 140.0C217.8 137.8 218.4 135.0 219.0 132.0C219.6 129.0 220.3 125.3 220.8 122.0C221.3 118.7 221.8 115.7 222.2 112.0C222.6 108.3 222.9 103.7 223.3 100.0C223.7 96.3 224.1 93.3 224.5 90.0C224.9 86.7 225.4 83.3 225.9 80.0C226.4 76.7 226.7 75.8 227.5 70.0C228.3 64.2 229.5 53.3 230.5 45.0C231.5 36.7 232.6 25.4 233.3 20.0C234.0 14.6 234.2 13.1 234.6 12.8C235.0 12.5 235.4 13.8 236.0 18.0C236.6 22.2 237.5 31.0 238.2 38.0C238.9 45.0 239.8 53.8 240.4 60.0C241.0 66.2 241.2 70.3 241.7 75.0C242.2 79.7 242.8 84.3 243.4 88.0C244.0 91.7 244.6 94.5 245.3 97.0C246.0 99.5 246.7 101.1 247.5 102.7C248.3 104.3 249.3 105.4 250.4 106.5C251.5 107.6 252.7 108.5 254.0 109.5C255.3 110.5 256.9 111.7 258.0 112.5C259.1 113.3 259.5 113.1 260.8 114.3C262.1 115.5 264.3 117.8 266.0 119.5C267.7 121.2 269.5 123.3 271.2 124.7C272.9 126.1 274.7 127.0 276.4 128.0C278.1 129.0 279.8 129.9 281.6 130.9C283.4 131.9 285.3 132.9 287.0 134.0C288.7 135.1 290.3 135.8 292.0 137.2C293.7 138.6 295.5 140.6 297.2 142.5C298.9 144.4 300.6 146.5 302.3 148.6C304.0 150.7 305.8 152.9 307.5 155.0C309.2 157.1 310.9 159.2 312.7 161.1C314.4 163.0 316.3 164.8 318.0 166.5C319.7 168.2 322.0 170.4 323.1 171.5C324.2 172.6 324.3 172.8 324.5 173.0" fill="none" stroke="#000" stroke-width="2.3" stroke-linejoin="round" stroke-linecap="round"/><g fill="#000"><circle cx="191.50" cy="173.50" r="1.8"/><circle cx="192.13" cy="173.40" r="1.8"/><circle cx="192.76" cy="173.31" r="1.8"/><circle cx="193.39" cy="173.22" r="1.8"/><circle cx="194.02" cy="173.13" r="1.8"/><circle cx="194.65" cy="173.03" r="1.8"/><circle cx="195.28" cy="172.94" r="1.8"/><circle cx="195.91" cy="172.84" r="1.8"/><circle cx="196.54" cy="172.74" r="1.8"/><circle cx="197.17" cy="172.63" r="1.8"/><circle cx="197.80" cy="172.52" r="1.8"/><circle cx="198.43" cy="172.39" r="1.8"/><circle cx="199.06" cy="172.25" r="1.8"/><circle cx="199.69" cy="172.09" r="1.8"/><circle cx="200.32" cy="171.89" r="1.8"/><circle cx="200.95" cy="171.64" r="1.8"/><circle cx="201.58" cy="171.32" r="1.8"/><circle cx="202.21" cy="170.92" r="1.8"/><circle cx="202.84" cy="170.44" r="1.8"/><circle cx="203.47" cy="169.92" r="1.8"/><circle cx="204.10" cy="169.43" r="1.8"/><circle cx="204.73" cy="168.97" r="1.8"/><circle cx="205.36" cy="168.45" r="1.8"/><circle cx="205.99" cy="167.71" r="1.8"/><circle cx="206.62" cy="166.73" r="1.8"/><circle cx="207.25" cy="165.59" r="1.8"/><circle cx="207.88" cy="164.31" r="1.8"/><circle cx="208.51" cy="162.87" r="1.8"/><circle cx="209.14" cy="161.28" r="1.8"/><circle cx="209.77" cy="159.59" r="1.8"/><circle cx="210.40" cy="157.73" r="1.8"/><circle cx="211.03" cy="155.56" r="1.8"/><circle cx="211.66" cy="152.86" r="1.8"/><circle cx="212.29" cy="149.48" r="1.8"/><circle cx="212.92" cy="145.53" r="1.8"/><circle cx="213.55" cy="140.63" r="1.8"/><circle cx="214.18" cy="135.15" r="1.8"/><circle cx="214.81" cy="131.02" r="1.8"/><circle cx="215.44" cy="127.35" r="1.8"/><circle cx="216.07" cy="123.73" r="1.8"/><circle cx="216.70" cy="120.48" r="1.8"/><circle cx="217.33" cy="117.21" r="1.8"/><circle cx="217.96" cy="114.03" r="1.8"/><circle cx="218.59" cy="111.65" r="1.8"/><circle cx="219.22" cy="109.99" r="1.8"/><circle cx="219.85" cy="108.78" r="1.8"/><circle cx="220.48" cy="107.77" r="1.8"/><circle cx="221.11" cy="106.87" r="1.8"/><circle cx="221.74" cy="106.00" r="1.8"/><circle cx="222.37" cy="105.13" r="1.8"/><circle cx="223.00" cy="104.21" r="1.8"/><circle cx="223.63" cy="103.18" r="1.8"/><circle cx="224.26" cy="102.06" r="1.8"/><circle cx="224.89" cy="100.89" r="1.8"/><circle cx="225.52" cy="99.70" r="1.8"/><circle cx="226.15" cy="98.50" r="1.8"/><circle cx="226.78" cy="97.30" r="1.8"/><circle cx="227.41" cy="96.12" r="1.8"/><circle cx="228.04" cy="94.96" r="1.8"/><circle cx="228.67" cy="93.77" r="1.8"/><circle cx="229.30" cy="92.56" r="1.8"/><circle cx="229.93" cy="91.36" r="1.8"/><circle cx="230.56" cy="90.20" r="1.8"/><circle cx="231.19" cy="89.11" r="1.8"/><circle cx="231.82" cy="88.12" r="1.8"/><circle cx="232.45" cy="87.29" r="1.8"/><circle cx="233.08" cy="86.60" r="1.8"/><circle cx="233.71" cy="86.03" r="1.8"/><circle cx="234.34" cy="85.61" r="1.8"/><circle cx="234.97" cy="85.33" r="1.8"/><circle cx="235.60" cy="85.21" r="1.8"/><circle cx="236.23" cy="85.27" r="1.8"/><circle cx="236.86" cy="85.59" r="1.8"/><circle cx="237.49" cy="86.10" r="1.8"/><circle cx="238.12" cy="86.78" r="1.8"/><circle cx="238.75" cy="87.54" r="1.8"/><circle cx="239.38" cy="88.43" r="1.8"/><circle cx="240.01" cy="89.74" r="1.8"/><circle cx="240.64" cy="91.38" r="1.8"/><circle cx="241.27" cy="93.42" r="1.8"/><circle cx="241.90" cy="95.55" r="1.8"/><circle cx="242.53" cy="97.32" r="1.8"/><circle cx="243.16" cy="98.71" r="1.8"/><circle cx="243.79" cy="99.85" r="1.8"/><circle cx="244.42" cy="100.83" r="1.8"/><circle cx="245.05" cy="101.71" r="1.8"/><circle cx="245.68" cy="102.51" r="1.8"/><circle cx="246.31" cy="103.24" r="1.8"/><circle cx="246.94" cy="103.93" r="1.8"/><circle cx="247.57" cy="104.57" r="1.8"/><circle cx="248.20" cy="105.17" r="1.8"/><circle cx="248.83" cy="105.73" r="1.8"/><circle cx="249.46" cy="106.25" r="1.8"/><circle cx="250.09" cy="106.76" r="1.8"/><circle cx="250.72" cy="107.24" r="1.8"/><circle cx="251.35" cy="107.70" r="1.8"/><circle cx="251.98" cy="108.12" r="1.8"/><circle cx="252.61" cy="108.54" r="1.8"/><circle cx="253.24" cy="108.97" r="1.8"/><circle cx="253.87" cy="109.41" r="1.8"/><circle cx="254.50" cy="109.87" r="1.8"/><circle cx="255.13" cy="110.34" r="1.8"/><circle cx="255.76" cy="110.82" r="1.8"/><circle cx="256.39" cy="111.30" r="1.8"/><circle cx="257.02" cy="111.78" r="1.8"/><circle cx="257.65" cy="112.25" r="1.8"/><circle cx="258.28" cy="112.69" r="1.8"/><circle cx="258.91" cy="113.05" r="1.8"/><circle cx="259.54" cy="113.38" r="1.8"/><circle cx="260.17" cy="113.79" r="1.8"/><circle cx="260.80" cy="114.30" r="1.8"/><circle cx="261.43" cy="114.88" r="1.8"/><circle cx="262.06" cy="115.49" r="1.8"/><circle cx="262.69" cy="116.12" r="1.8"/><circle cx="263.32" cy="116.76" r="1.8"/><circle cx="263.95" cy="117.41" r="1.8"/><circle cx="264.58" cy="118.05" r="1.8"/><circle cx="265.21" cy="118.70" r="1.8"/><circle cx="265.84" cy="119.34" r="1.8"/><circle cx="266.47" cy="119.98" r="1.8"/><circle cx="267.10" cy="120.63" r="1.8"/><circle cx="267.73" cy="121.30" r="1.8"/><circle cx="268.36" cy="121.97" r="1.8"/><circle cx="268.99" cy="122.62" r="1.8"/><circle cx="269.62" cy="123.26" r="1.8"/><circle cx="270.25" cy="123.87" r="1.8"/><circle cx="270.88" cy="124.43" r="1.8"/><circle cx="271.51" cy="124.95" r="1.8"/><circle cx="272.14" cy="125.42" r="1.8"/><circle cx="272.77" cy="125.85" r="1.8"/><circle cx="273.40" cy="126.25" r="1.8"/><circle cx="274.03" cy="126.63" r="1.8"/><circle cx="274.66" cy="127.00" r="1.8"/><circle cx="275.29" cy="127.36" r="1.8"/><circle cx="275.92" cy="127.72" r="1.8"/><circle cx="276.55" cy="128.09" r="1.8"/><circle cx="277.18" cy="128.46" r="1.8"/><circle cx="277.81" cy="128.81" r="1.8"/><circle cx="278.44" cy="129.16" r="1.8"/><circle cx="279.07" cy="129.51" r="1.8"/><circle cx="279.70" cy="129.85" r="1.8"/><circle cx="280.33" cy="130.19" r="1.8"/><circle cx="280.96" cy="130.54" r="1.8"/><circle cx="281.59" cy="130.89" r="1.8"/><circle cx="282.22" cy="131.25" r="1.8"/><circle cx="282.85" cy="131.60" r="1.8"/><circle cx="283.48" cy="131.96" r="1.8"/><circle cx="284.11" cy="132.32" r="1.8"/><circle cx="284.74" cy="132.67" r="1.8"/><circle cx="285.37" cy="133.04" r="1.8"/><circle cx="286.00" cy="133.40" r="1.8"/><circle cx="286.63" cy="133.78" r="1.8"/><circle cx="287.26" cy="134.16" r="1.8"/><circle cx="287.89" cy="134.52" r="1.8"/><circle cx="288.52" cy="134.88" r="1.8"/><circle cx="289.15" cy="135.25" r="1.8"/><circle cx="289.78" cy="135.62" r="1.8"/><circle cx="290.41" cy="136.02" r="1.8"/><circle cx="291.04" cy="136.46" r="1.8"/><circle cx="291.67" cy="136.93" r="1.8"/><circle cx="292.30" cy="137.46" r="1.8"/><circle cx="292.93" cy="138.02" r="1.8"/><circle cx="293.56" cy="138.62" r="1.8"/><circle cx="294.19" cy="139.25" r="1.8"/><circle cx="294.82" cy="139.91" r="1.8"/><circle cx="295.45" cy="140.58" r="1.8"/><circle cx="296.08" cy="141.26" r="1.8"/><circle cx="296.71" cy="141.96" r="1.8"/><circle cx="297.34" cy="142.66" r="1.8"/><circle cx="297.97" cy="143.37" r="1.8"/><circle cx="298.60" cy="144.10" r="1.8"/><circle cx="299.23" cy="144.85" r="1.8"/><circle cx="299.86" cy="145.61" r="1.8"/><circle cx="300.49" cy="146.38" r="1.8"/><circle cx="301.12" cy="147.16" r="1.8"/><circle cx="301.75" cy="147.93" r="1.8"/><circle cx="302.38" cy="148.70" r="1.8"/><circle cx="303.01" cy="149.47" r="1.8"/><circle cx="303.64" cy="150.24" r="1.8"/><circle cx="304.27" cy="151.03" r="1.8"/><circle cx="304.90" cy="151.81" r="1.8"/><circle cx="305.53" cy="152.59" r="1.8"/><circle cx="306.16" cy="153.37" r="1.8"/><circle cx="306.79" cy="154.14" r="1.8"/><circle cx="307.42" cy="154.90" r="1.8"/><circle cx="308.05" cy="155.66" r="1.8"/><circle cx="308.68" cy="156.42" r="1.8"/><circle cx="309.31" cy="157.18" r="1.8"/><circle cx="309.94" cy="157.93" r="1.8"/><circle cx="310.57" cy="158.67" r="1.8"/><circle cx="311.20" cy="159.41" r="1.8"/><circle cx="311.83" cy="160.13" r="1.8"/><circle cx="312.46" cy="160.84" r="1.8"/><circle cx="313.09" cy="161.52" r="1.8"/><circle cx="313.72" cy="162.19" r="1.8"/><circle cx="314.35" cy="162.85" r="1.8"/><circle cx="314.98" cy="163.49" r="1.8"/><circle cx="315.61" cy="164.12" r="1.8"/><circle cx="316.24" cy="164.75" r="1.8"/><circle cx="316.87" cy="165.38" r="1.8"/><circle cx="317.50" cy="166.00" r="1.8"/><circle cx="318.13" cy="166.63" r="1.8"/><circle cx="318.76" cy="167.25" r="1.8"/><circle cx="319.39" cy="167.87" r="1.8"/><circle cx="320.02" cy="168.49" r="1.8"/><circle cx="320.65" cy="169.10" r="1.8"/><circle cx="321.28" cy="169.72" r="1.8"/><circle cx="321.91" cy="170.33" r="1.8"/><circle cx="322.54" cy="170.95" r="1.8"/><circle cx="323.17" cy="171.57" r="1.8"/><circle cx="323.80" cy="172.22" r="1.8"/><circle cx="324.43" cy="172.92" r="1.8"/></g><g fill="#fff"><circle cx="191.50" cy="173.50" r="0.52"/><circle cx="194.02" cy="173.13" r="0.52"/><circle cx="196.54" cy="172.74" r="0.52"/><circle cx="199.06" cy="172.25" r="0.53"/><circle cx="201.58" cy="171.32" r="0.58"/><circle cx="204.10" cy="169.43" r="0.60"/><circle cx="205.99" cy="167.71" r="0.68"/><circle cx="207.88" cy="164.31" r="0.79"/><circle cx="209.14" cy="161.28" r="0.85"/><circle cx="210.40" cy="157.73" r="0.90"/><circle cx="211.66" cy="152.86" r="0.90"/><circle cx="212.29" cy="149.48" r="0.90"/><circle cx="212.92" cy="145.53" r="0.90"/><circle cx="213.55" cy="140.63" r="0.90"/><circle cx="214.18" cy="135.15" r="0.90"/><circle cx="214.81" cy="131.02" r="0.90"/><circle cx="215.44" cy="127.35" r="0.90"/><circle cx="216.07" cy="123.73" r="0.90"/><circle cx="216.70" cy="120.48" r="0.90"/><circle cx="217.33" cy="117.21" r="0.90"/><circle cx="217.96" cy="114.03" r="0.90"/><circle cx="219.22" cy="109.99" r="0.80"/><circle cx="220.48" cy="107.77" r="0.70"/><circle cx="222.37" cy="105.13" r="0.69"/><circle cx="224.26" cy="102.06" r="0.74"/><circle cx="225.52" cy="99.70" r="0.75"/><circle cx="226.78" cy="97.30" r="0.75"/><circle cx="228.04" cy="94.96" r="0.75"/><circle cx="229.30" cy="92.56" r="0.75"/><circle cx="230.56" cy="90.20" r="0.74"/><circle cx="232.45" cy="87.29" r="0.66"/><circle cx="234.34" cy="85.61" r="0.57"/><circle cx="236.86" cy="85.59" r="0.59"/><circle cx="238.75" cy="87.54" r="0.68"/><circle cx="240.01" cy="89.74" r="0.81"/><circle cx="241.27" cy="93.42" r="0.90"/><circle cx="242.53" cy="97.32" r="0.83"/><circle cx="243.79" cy="99.85" r="0.72"/><circle cx="245.68" cy="102.51" r="0.66"/><circle cx="247.57" cy="104.57" r="0.63"/><circle cx="249.46" cy="106.25" r="0.61"/><circle cx="251.98" cy="108.12" r="0.59"/><circle cx="254.50" cy="109.87" r="0.60"/><circle cx="257.02" cy="111.78" r="0.60"/><circle cx="259.54" cy="113.38" r="0.58"/><circle cx="262.06" cy="115.49" r="0.63"/><circle cx="263.95" cy="117.41" r="0.64"/><circle cx="265.84" cy="119.34" r="0.64"/><circle cx="267.73" cy="121.30" r="0.64"/><circle cx="269.62" cy="123.26" r="0.63"/><circle cx="271.51" cy="124.95" r="0.60"/><circle cx="274.03" cy="126.63" r="0.58"/><circle cx="276.55" cy="128.09" r="0.58"/><circle cx="279.07" cy="129.51" r="0.57"/><circle cx="281.59" cy="130.89" r="0.57"/><circle cx="284.11" cy="132.32" r="0.58"/><circle cx="286.63" cy="133.78" r="0.58"/><circle cx="289.15" cy="135.25" r="0.58"/><circle cx="291.67" cy="136.93" r="0.61"/><circle cx="293.56" cy="138.62" r="0.63"/><circle cx="295.45" cy="140.58" r="0.64"/><circle cx="297.34" cy="142.66" r="0.65"/><circle cx="299.23" cy="144.85" r="0.66"/><circle cx="301.12" cy="147.16" r="0.66"/><circle cx="303.01" cy="149.47" r="0.66"/><circle cx="304.90" cy="151.81" r="0.67"/><circle cx="306.79" cy="154.14" r="0.66"/><circle cx="308.68" cy="156.42" r="0.66"/><circle cx="310.57" cy="158.67" r="0.66"/><circle cx="312.46" cy="160.84" r="0.65"/><circle cx="314.35" cy="162.85" r="0.64"/><circle cx="316.24" cy="164.75" r="0.63"/><circle cx="318.13" cy="166.63" r="0.63"/><circle cx="320.02" cy="168.49" r="0.63"/><circle cx="321.91" cy="170.33" r="0.63"/><circle cx="323.80" cy="172.22" r="0.64"/></g><path d="M196.0 175.0C197.3 174.6 201.9 173.6 204.0 172.8C206.1 172.1 207.1 172.1 208.7 170.5C210.3 168.9 212.4 166.1 213.7 163.5C215.0 160.9 215.8 158.4 216.6 155.0C217.4 151.6 218.0 146.8 218.6 143.0C219.2 139.2 219.5 136.3 219.9 132.5C220.3 128.7 220.7 124.1 221.1 120.0C221.5 115.9 222.0 112.7 222.4 108.0C222.8 103.3 223.0 97.2 223.5 92.0C224.0 86.8 224.5 82.2 225.5 77.0C226.5 71.8 228.3 65.2 229.5 61.0C230.7 56.8 231.6 53.8 232.5 52.0C233.4 50.2 234.1 50.0 234.9 50.0C235.7 50.0 236.6 50.2 237.5 52.0C238.4 53.8 239.5 56.8 240.5 61.0C241.5 65.2 242.3 72.2 243.3 77.0C244.3 81.8 245.4 85.8 246.5 90.0C247.6 94.2 248.9 98.8 250.0 102.0C251.1 105.2 252.1 106.8 253.0 109.0C253.9 111.2 254.3 113.5 255.5 115.5C256.7 117.5 258.2 119.2 260.0 121.0C261.8 122.8 264.2 124.3 266.0 126.0C267.8 127.7 269.3 128.6 271.0 131.0C272.7 133.4 274.3 137.3 276.0 140.5C277.7 143.7 279.3 147.1 281.0 150.4C282.7 153.7 284.3 157.5 286.0 160.4C287.7 163.3 288.9 165.8 291.0 167.9C293.1 170.0 295.9 172.2 298.4 173.0C300.9 173.8 303.6 173.6 305.9 173.0C308.2 172.4 310.1 171.3 312.2 169.3C314.3 167.3 316.3 164.3 318.4 161.2C320.4 158.1 323.5 152.5 324.5 150.8" fill="none" stroke="#f00" stroke-width="2.3" stroke-linejoin="round" stroke-linecap="round"/><path d="M197.5 174.9C199.4 174.5 205.8 173.7 208.7 172.4C211.6 171.2 213.3 169.5 214.9 167.4C216.5 165.3 217.3 162.6 218.1 159.9C218.9 157.2 219.4 154.7 219.9 151.2C220.4 147.7 220.8 142.9 221.2 138.7C221.6 134.5 222.0 131.0 222.4 126.2C222.8 121.4 223.1 116.0 223.4 110.0C223.7 104.0 223.9 95.8 224.4 90.0C224.9 84.2 225.5 80.0 226.4 75.0C227.3 70.0 228.9 64.0 230.0 60.0C231.1 56.0 232.0 53.0 232.8 51.0C233.6 49.0 234.2 48.1 234.9 48.1C235.6 48.1 236.2 48.9 237.0 51.0C237.8 53.1 238.9 56.7 240.0 61.0C241.1 65.3 242.2 72.2 243.3 77.0C244.4 81.8 245.4 85.8 246.5 90.0C247.6 94.2 248.9 98.8 250.0 102.0C251.1 105.2 252.1 106.8 253.0 109.0C253.9 111.2 254.3 113.5 255.5 115.5C256.7 117.5 258.2 119.3 260.0 121.0C261.8 122.7 264.2 123.9 266.0 125.5C267.8 127.1 269.3 128.0 271.0 130.5C272.7 133.0 274.3 137.2 276.0 140.5C277.7 143.8 279.3 147.1 281.0 150.4C282.7 153.7 284.3 157.5 286.0 160.4C287.7 163.3 288.9 165.8 291.0 167.9C293.1 170.0 295.9 172.1 298.4 172.9C300.9 173.7 303.6 173.4 305.9 172.9C308.2 172.4 310.1 171.5 312.2 169.8C314.3 168.1 316.3 165.7 318.4 162.9C320.4 160.1 323.5 154.8 324.5 153.2" fill="none" stroke="#0f0" stroke-width="2.8" stroke-linejoin="round" stroke-linecap="round"/><path d="M207.7 126.9V143" stroke="#000" stroke-width="2.5"/><path d="M203.9 141.8L207.7 153.9L211.5 141.8Z" fill="#000"/>
<path d="M215.2 176V173.5M263.8 176V173.5M310.4 176V173.5" stroke="#000" stroke-width="1.5"/>
<g font-size="16.5" text-anchor="middle">
<text x="215.2" y="192.3">9660</text><text x="263.8" y="192.3">9680</text><text x="310.4" y="192.3">9700</text>
<text x="255" y="207.5">E(eV)</text>
</g>
<text x="248.6" y="27.7" font-size="18">B</text>
<g font-size="16.5">
<text x="206" y="104.8">A</text>
<text x="262.2" y="111.2">C</text>
<text x="292.5" y="138">D</text>
</g>
</g>

<!-- ===== Inset A2 ===== -->
<g id="ia2">
<rect x="193.5" y="271.5" width="135.5" height="113.2" fill="#fff" stroke="#000" stroke-width="2"/>
<path d="M195.0 383.0C196.2 382.2 199.9 380.1 202.2 378.4C204.5 376.7 206.7 374.5 209.0 372.7C211.3 370.9 213.6 368.8 215.9 367.6C218.2 366.5 220.4 366.4 222.7 365.8C225.0 365.2 227.3 363.8 229.6 364.2C231.9 364.6 234.4 366.9 236.5 368.1C238.6 369.3 240.3 371.5 242.2 371.5C244.1 371.5 246.4 368.9 247.9 368.1C249.4 367.3 250.2 366.3 251.3 366.5C252.5 366.7 253.5 368.4 254.8 369.2C256.1 370.0 258.0 372.3 259.3 371.5C260.6 370.7 261.3 367.7 262.6 364.6C263.9 361.5 265.6 356.9 267.1 353.1C268.6 349.3 270.2 346.3 271.7 341.7C273.2 337.1 274.8 331.0 276.3 325.7C277.8 320.4 279.4 314.6 280.9 309.7C282.4 304.8 283.5 299.1 285.4 296.0C287.3 292.9 289.8 292.1 292.3 291.0C294.8 289.9 298.0 288.8 300.3 289.1C302.6 289.4 304.3 290.3 306.0 292.6C307.7 294.9 309.3 298.1 310.6 302.9C311.9 307.6 312.9 314.6 314.0 321.1C315.1 327.6 316.2 334.8 317.4 341.7C318.5 348.6 319.8 355.3 320.9 362.3C322.0 369.3 323.7 380.0 324.3 383.5" fill="none" stroke="#000" stroke-width="1.6" stroke-linejoin="round" stroke-linecap="round"/><path d="M195.0 384.0C198.5 383.4 210.1 381.8 215.9 380.7C221.7 379.6 225.8 378.5 229.6 377.2C233.4 375.9 235.8 375.2 238.8 372.7C241.9 370.2 245.2 366.0 247.9 362.4C250.6 358.8 252.9 354.7 254.8 350.9C256.7 347.1 257.6 343.7 259.3 339.5C261.0 335.3 263.2 329.9 264.9 325.7C266.6 321.5 268.1 317.4 269.4 314.3C270.7 311.2 271.8 308.7 272.9 307.4C274.0 306.1 275.0 306.1 276.3 306.3C277.6 306.5 279.4 306.9 280.9 308.6C282.4 310.3 283.5 313.0 285.4 316.6C287.3 320.2 290.2 326.3 292.3 330.3C294.4 334.3 296.1 338.1 298.0 340.6C299.9 343.1 301.8 343.8 303.7 345.1C305.6 346.4 307.5 346.1 309.4 348.6C311.3 351.1 313.4 355.4 315.1 360.0C316.8 364.6 318.5 371.9 319.7 376.0C320.9 380.1 322.0 383.1 322.5 384.5" fill="none" stroke="#f00" stroke-width="1.6" stroke-linejoin="round" stroke-linecap="round"/><path d="M195.0 384.0C198.5 383.6 210.1 382.1 215.9 381.3C221.7 380.6 225.8 380.4 229.6 379.5C233.4 378.6 235.8 378.0 238.8 376.1C241.9 374.2 245.2 371.2 247.9 368.1C250.6 365.1 252.9 361.2 254.8 357.8C256.7 354.4 257.6 351.3 259.3 347.5C261.0 343.7 262.8 340.4 264.9 334.9C267.0 329.4 269.8 319.8 271.7 314.3C273.6 308.8 274.8 304.7 276.3 301.7C277.8 298.7 279.4 296.7 280.9 296.5C282.4 296.3 283.5 297.2 285.4 300.6C287.3 304.0 290.2 310.9 292.3 316.6C294.4 322.3 296.1 330.3 298.0 334.9C299.9 339.5 301.6 341.7 303.7 344.0C305.8 346.3 308.7 346.3 310.6 348.6C312.5 350.9 313.6 353.9 315.1 357.7C316.6 361.5 318.3 366.9 319.7 371.4C321.1 375.9 322.9 382.3 323.5 384.5" fill="none" stroke="#0f0" stroke-width="1.6" stroke-linejoin="round" stroke-linecap="round"/><path d="M195.0 383.0C196.9 382.6 203.2 381.5 206.7 380.7C210.2 379.9 212.8 379.9 215.9 378.4C219.0 376.9 222.5 374.2 225.0 371.5C227.5 368.8 229.2 364.9 230.7 361.9C232.2 358.8 233.0 356.9 234.2 353.2C235.3 349.5 236.5 343.5 237.6 339.5C238.7 335.5 239.8 331.9 241.0 329.2C242.2 326.4 243.5 324.1 244.5 323.0C245.5 321.9 246.1 321.7 246.8 322.3C247.6 322.9 248.1 324.8 249.0 326.9C249.9 329.0 251.2 332.2 252.5 334.9C253.8 337.6 255.6 340.2 257.1 342.9C258.6 345.6 260.2 348.4 261.6 350.9C263.0 353.4 264.2 355.7 265.5 358.0C266.8 360.3 267.8 362.6 269.4 364.6C271.0 366.7 273.2 368.9 275.1 370.3C277.0 371.8 278.8 373.3 280.9 373.3C283.0 373.3 285.4 371.3 287.7 370.3C290.0 369.3 292.5 368.1 294.6 367.5C296.7 366.9 298.4 366.7 300.3 366.9C302.2 367.1 303.9 367.9 306.0 368.7C308.1 369.4 310.6 370.4 312.9 371.4C315.2 372.4 317.3 373.0 319.7 374.9C322.1 376.8 325.8 381.2 327.0 382.5" fill="none" stroke="#000" stroke-width="1.1"/><g fill="#fff" stroke="#000" stroke-width="0.95"><circle cx="196.50" cy="382.71" r="1.5"/><circle cx="199.80" cy="382.08" r="1.5"/><circle cx="203.10" cy="381.44" r="1.5"/><circle cx="206.40" cy="380.77" r="1.5"/><circle cx="209.70" cy="380.15" r="1.5"/><circle cx="213.00" cy="379.49" r="1.5"/><circle cx="216.30" cy="378.19" r="1.5"/><circle cx="219.60" cy="376.18" r="1.5"/><circle cx="222.90" cy="373.58" r="1.5"/><circle cx="226.20" cy="370.01" r="1.5"/><circle cx="229.50" cy="364.32" r="1.5"/><circle cx="232.80" cy="357.29" r="1.5"/><circle cx="236.10" cy="345.61" r="1.5"/><circle cx="239.40" cy="333.56" r="1.5"/><circle cx="242.70" cy="325.71" r="1.5"/><circle cx="246.00" cy="321.93" r="1.5"/><circle cx="249.30" cy="327.58" r="1.5"/><circle cx="252.60" cy="335.10" r="1.5"/><circle cx="255.90" cy="340.85" r="1.5"/><circle cx="259.20" cy="346.61" r="1.5"/><circle cx="262.50" cy="352.54" r="1.5"/><circle cx="265.80" cy="358.54" r="1.5"/><circle cx="269.10" cy="364.20" r="1.5"/><circle cx="272.40" cy="367.94" r="1.5"/><circle cx="275.70" cy="370.76" r="1.5"/><circle cx="279.00" cy="372.89" r="1.5"/><circle cx="282.30" cy="373.05" r="1.5"/><circle cx="285.60" cy="371.39" r="1.5"/><circle cx="288.90" cy="369.78" r="1.5"/><circle cx="292.20" cy="368.34" r="1.5"/><circle cx="295.50" cy="367.27" r="1.5"/><circle cx="298.80" cy="366.83" r="1.5"/><circle cx="302.10" cy="367.27" r="1.5"/><circle cx="305.40" cy="368.48" r="1.5"/><circle cx="308.70" cy="369.68" r="1.5"/><circle cx="312.00" cy="371.00" r="1.5"/><circle cx="315.30" cy="372.42" r="1.5"/><circle cx="318.60" cy="374.11" r="1.5"/><circle cx="321.90" cy="376.93" r="1.5"/><circle cx="325.20" cy="380.50" r="1.5"/></g>
<path d="M212.4 384V381.8M254.3 384V381.8M296.3 384V381.8" stroke="#000" stroke-width="1.4"/>
<text x="196" y="282.3" font-size="12" textLength="129" lengthAdjust="spacing">1st order differentiation</text>
<g font-size="14.3" text-anchor="middle">
<text x="212.2" y="398.3">9655</text><text x="254.3" y="398.3">9660</text><text x="296.3" y="398.3">9665</text>
</g>
<text x="259.3" y="413" font-size="15" text-anchor="middle">E(eV)</text>
</g>

<!-- ===== Panel B frame ===== -->
<g id="pb">
<rect x="370.2" y="2.9" width="311.2" height="422.3" fill="none" stroke="#000" stroke-width="2.4"/>
<g stroke="#000" stroke-width="2">
<path d="M395.6 425V420 M421.6 425V422 M447.6 425V420 M473.6 425V422 M499.6 425V420 M525.6 425V422 M551.6 425V420 M577.5 425V422 M603.5 425V420 M629.5 425V422 M655.5 425V420"/>
</g>
<g font-size="21.5" text-anchor="middle">
<text x="395.6" y="449">532</text><text x="447.6" y="449">536</text><text x="499.6" y="449">540</text><text x="551.6" y="449">544</text><text x="603.5" y="449">548</text><text x="655.5" y="449">552</text>
</g>
<text x="426" y="474.3" font-size="22" textLength="191" lengthAdjust="spacingAndGlyphs">Photon Energy (eV)</text>
<text x="373" y="18.2" font-size="14" textLength="141.5" lengthAdjust="spacing">(b) O <tspan font-style="italic">K</tspan>-edge XANES</text>
<g stroke-width="2.6" fill="none">
<path d="M373.2 36.2H404.7" stroke="#000"/>
<path d="M373.2 53.3H404.7" stroke="#f00"/>
<path d="M373.2 69.4H404.7" stroke="#0f0"/>
</g>
<g font-size="13">
<text x="407.5" y="40.4" textLength="26.8" lengthAdjust="spacing">ZnO</text>
<text x="407.5" y="57.6" textLength="106" lengthAdjust="spacing">ZnO:E (Sapphire)</text>
<text x="407.5" y="73.6" textLength="92" lengthAdjust="spacing">ZnO:Er(silicon)</text>
</g>
<path d="M386.0 298.4C386.8 298.2 389.3 298.3 391.0 297.2C392.7 296.1 394.3 294.8 396.0 291.7C397.7 288.6 399.5 285.2 401.2 278.7C402.9 272.2 404.9 260.9 406.4 252.7C407.9 244.5 409.0 236.8 410.3 229.4C411.6 222.1 413.1 213.2 414.2 208.6C415.3 204.0 415.9 202.5 416.8 202.1C417.7 201.7 418.3 201.9 419.4 206.0C420.5 210.1 422.1 219.5 423.2 226.8C424.3 234.1 425.1 244.1 426.1 250.0C427.1 255.9 428.0 258.8 429.0 262.0C430.0 265.2 431.1 267.8 431.9 269.5C432.7 271.2 433.2 271.9 434.0 272.5C434.8 273.1 435.6 273.3 436.4 272.9C437.1 272.5 437.7 271.1 438.5 270.0C439.3 268.9 439.4 268.9 441.0 266.0C442.6 263.1 445.6 256.9 447.9 252.3C450.2 247.7 452.4 243.2 454.7 238.6C457.0 234.0 459.3 229.5 461.6 224.9C463.9 220.3 466.1 215.3 468.4 211.1C470.7 206.9 473.2 202.9 475.3 199.7C477.4 196.5 479.1 194.0 481.0 191.7C482.9 189.4 484.6 187.5 486.7 186.0C488.8 184.5 491.4 183.3 493.6 182.6C495.8 181.9 497.5 181.9 500.0 181.6C502.5 181.2 505.2 180.8 508.8 180.5C512.5 180.2 517.8 180.0 521.9 180.1C526.0 180.2 530.0 180.9 533.6 181.3C537.2 181.7 539.7 182.1 543.8 182.7C547.9 183.3 554.0 183.8 558.4 184.9C562.8 186.0 566.5 187.5 570.1 189.3C573.8 191.1 576.9 193.7 580.3 195.9C583.7 198.1 587.2 200.6 590.5 202.4C593.8 204.2 595.9 204.8 600.0 206.8C604.1 208.8 609.2 212.0 615.3 214.5C621.4 217.0 628.9 220.6 636.4 222.0C643.9 223.4 652.6 222.7 660.0 222.8C667.4 222.9 677.5 222.6 681.0 222.5" fill="none" stroke="#000" stroke-width="2.4" stroke-linejoin="round" stroke-linecap="round"/><g fill="#000"><circle cx="371.50" cy="298.50" r="1.7"/><circle cx="372.50" cy="298.50" r="1.7"/><circle cx="373.50" cy="298.50" r="1.7"/><circle cx="374.50" cy="298.49" r="1.7"/><circle cx="375.50" cy="298.49" r="1.7"/><circle cx="376.50" cy="298.49" r="1.7"/><circle cx="377.50" cy="298.49" r="1.7"/><circle cx="378.50" cy="298.49" r="1.7"/><circle cx="379.50" cy="298.49" r="1.7"/><circle cx="380.50" cy="298.49" r="1.7"/><circle cx="381.50" cy="298.48" r="1.7"/><circle cx="382.50" cy="298.48" r="1.7"/><circle cx="383.50" cy="298.48" r="1.7"/><circle cx="384.50" cy="298.47" r="1.7"/><circle cx="385.50" cy="298.46" r="1.7"/><circle cx="386.50" cy="298.45" r="1.7"/><circle cx="387.50" cy="298.44" r="1.7"/><circle cx="388.50" cy="298.43" r="1.7"/><circle cx="389.50" cy="298.41" r="1.7"/><circle cx="390.50" cy="298.39" r="1.7"/><circle cx="391.50" cy="298.36" r="1.7"/><circle cx="392.50" cy="298.33" r="1.7"/><circle cx="393.50" cy="298.30" r="1.7"/><circle cx="394.50" cy="298.25" r="1.7"/><circle cx="395.50" cy="298.20" r="1.7"/><circle cx="396.50" cy="298.14" r="1.7"/><circle cx="397.50" cy="298.05" r="1.7"/><circle cx="398.50" cy="297.94" r="1.7"/><circle cx="399.50" cy="297.81" r="1.7"/><circle cx="400.50" cy="297.66" r="1.7"/><circle cx="401.50" cy="297.48" r="1.7"/><circle cx="402.50" cy="297.25" r="1.7"/><circle cx="403.50" cy="296.98" r="1.7"/><circle cx="404.50" cy="296.67" r="1.7"/><circle cx="405.50" cy="296.32" r="1.7"/><circle cx="406.50" cy="295.95" r="1.7"/><circle cx="407.50" cy="295.56" r="1.7"/><circle cx="408.50" cy="295.14" r="1.7"/><circle cx="409.50" cy="294.69" r="1.7"/><circle cx="410.50" cy="294.19" r="1.7"/><circle cx="411.50" cy="293.64" r="1.7"/><circle cx="412.50" cy="293.03" r="1.7"/><circle cx="413.50" cy="292.34" r="1.7"/><circle cx="414.50" cy="291.57" r="1.7"/><circle cx="415.50" cy="290.73" r="1.7"/><circle cx="416.50" cy="289.85" r="1.7"/><circle cx="417.50" cy="288.96" r="1.7"/><circle cx="418.50" cy="288.08" r="1.7"/><circle cx="419.50" cy="287.23" r="1.7"/><circle cx="420.50" cy="286.41" r="1.7"/><circle cx="421.50" cy="285.58" r="1.7"/><circle cx="422.50" cy="284.76" r="1.7"/><circle cx="423.50" cy="283.93" r="1.7"/><circle cx="424.50" cy="283.09" r="1.7"/><circle cx="425.50" cy="282.24" r="1.7"/><circle cx="426.50" cy="281.37" r="1.7"/><circle cx="427.50" cy="280.45" r="1.7"/><circle cx="428.50" cy="279.51" r="1.7"/><circle cx="429.50" cy="278.57" r="1.7"/><circle cx="430.50" cy="277.67" r="1.7"/><circle cx="431.50" cy="276.84" r="1.7"/><circle cx="432.50" cy="276.08" r="1.7"/><circle cx="433.50" cy="275.36" r="1.7"/><circle cx="434.50" cy="274.67" r="1.7"/><circle cx="435.50" cy="273.99" r="1.7"/><circle cx="436.50" cy="273.31" r="1.7"/></g><g fill="#fff"><circle cx="371.50" cy="298.50" r="1.00"/><circle cx="374.50" cy="298.49" r="1.00"/><circle cx="377.50" cy="298.49" r="1.00"/><circle cx="380.50" cy="298.49" r="1.00"/><circle cx="383.50" cy="298.48" r="1.00"/><circle cx="386.50" cy="298.45" r="1.00"/><circle cx="389.50" cy="298.41" r="1.00"/><circle cx="392.50" cy="298.33" r="1.00"/><circle cx="395.50" cy="298.20" r="1.00"/><circle cx="398.50" cy="297.94" r="1.00"/><circle cx="401.50" cy="297.48" r="1.00"/><circle cx="404.50" cy="296.67" r="1.00"/><circle cx="407.50" cy="295.56" r="1.00"/><circle cx="410.50" cy="294.19" r="1.00"/><circle cx="413.50" cy="292.34" r="1.00"/><circle cx="416.50" cy="289.85" r="1.00"/><circle cx="419.50" cy="287.23" r="1.00"/><circle cx="422.50" cy="284.76" r="1.00"/><circle cx="425.50" cy="282.24" r="1.00"/><circle cx="428.50" cy="279.51" r="1.00"/><circle cx="431.50" cy="276.84" r="1.00"/><circle cx="434.50" cy="274.67" r="1.00"/></g><path d="M384.0 298.0C384.7 297.6 386.2 297.7 388.2 295.6C390.2 293.5 393.8 289.8 396.0 285.2C398.2 280.6 399.5 274.6 401.2 268.3C402.9 262.0 404.7 254.4 406.4 247.5C408.1 240.6 410.1 231.8 411.6 226.8C413.1 221.8 414.4 218.8 415.5 217.7C416.6 216.6 417.0 217.9 418.1 220.3C419.2 222.7 420.4 227.8 421.9 232.0C423.4 236.2 425.4 242.4 427.0 245.5C428.6 248.6 430.0 250.4 431.5 250.5C433.0 250.6 434.4 248.7 436.0 246.0C437.6 243.3 439.1 239.5 441.0 234.5C442.9 229.5 445.3 222.2 447.5 216.0C449.7 209.8 451.9 203.3 454.2 197.5C456.4 191.7 458.7 185.9 461.0 181.0C463.3 176.1 465.4 171.2 467.8 168.3C470.2 165.5 472.9 164.8 475.1 163.9C477.3 163.0 478.7 162.8 480.9 163.0C483.1 163.2 485.4 164.3 488.1 165.3C490.8 166.3 494.0 167.9 496.9 168.8C499.8 169.7 502.2 170.2 505.6 170.6C509.0 171.0 514.3 170.8 517.5 171.4C520.7 172.0 522.1 172.7 524.8 174.0C527.5 175.3 530.4 176.9 533.6 179.1C536.8 181.3 540.9 184.9 543.8 187.1C546.7 189.3 548.7 190.7 551.1 192.2C553.5 193.7 554.8 194.4 558.4 195.9C562.0 197.4 568.1 199.3 573.0 201.0C577.9 202.7 583.1 204.4 587.6 206.1C592.1 207.8 595.4 209.4 600.0 211.2C604.6 213.0 610.3 214.8 615.3 216.7C620.3 218.6 625.6 221.0 630.0 222.5C634.4 224.0 636.6 225.0 641.6 225.5C646.6 226.0 653.4 225.8 660.0 225.5C666.6 225.2 677.5 224.2 681.0 224.0" fill="none" stroke="#f00" stroke-width="2.1" stroke-linejoin="round" stroke-linecap="round"/><path d="M383.0 298.0C383.4 297.6 383.9 297.5 385.6 295.6C387.3 293.7 391.2 290.6 393.4 286.5C395.6 282.4 396.9 277.0 398.6 270.9C400.3 264.8 402.1 257.4 403.8 250.1C405.5 242.8 407.5 232.9 409.0 226.8C410.5 220.8 411.7 216.4 412.9 213.8C414.1 211.2 415.1 210.8 416.2 211.2C417.3 211.6 418.2 212.9 419.4 216.4C420.6 219.9 421.9 227.2 423.2 232.0C424.5 236.8 425.7 241.7 427.1 244.9C428.6 248.1 430.3 251.0 431.9 251.1C433.4 251.2 434.9 248.2 436.4 245.4C437.9 242.6 439.1 238.9 441.0 234.0C442.9 229.1 445.6 221.8 447.9 215.7C450.2 209.6 452.4 203.1 454.7 197.4C457.0 191.7 459.3 185.8 461.6 181.4C463.9 177.0 466.1 173.8 468.4 171.1C470.6 168.4 473.0 166.4 475.1 165.3C477.2 164.2 478.7 164.7 480.9 164.8C483.1 164.9 485.0 165.6 488.1 165.9C491.2 166.2 495.9 166.5 499.8 166.8C503.7 167.1 508.4 167.4 511.4 167.7C514.4 168.0 515.3 167.8 517.5 168.4C519.7 169.0 522.1 169.8 524.8 171.1C527.5 172.4 530.4 174.3 533.6 176.2C536.8 178.1 539.7 180.5 543.8 182.7C547.9 184.9 553.5 187.2 558.4 189.3C563.3 191.4 568.1 193.0 573.0 195.1C577.9 197.2 583.1 199.5 587.6 201.7C592.1 203.9 595.4 206.2 600.0 208.3C604.6 210.4 609.2 211.7 615.3 214.0C621.4 216.3 628.9 220.6 636.4 222.0C643.9 223.4 652.6 222.5 660.0 222.5C667.4 222.5 677.5 222.1 681.0 222.0" fill="none" stroke="#0f0" stroke-width="2.5" stroke-linejoin="round" stroke-linecap="round"/>
<g font-size="16">
<text x="411" y="198.3">A'</text>
<text x="453.3" y="172.5">B'</text>
<text x="471" y="157.7">C'</text>
<text x="516.8" y="165">D'</text>
<text x="599" y="202.3">E'</text>
<text x="628.5" y="214.6">F'</text>
<text x="662.6" y="219.3">G'</text>
</g>
</g>

<!-- ===== Inset B1 ===== -->
<g id="ib1">
<rect x="526.6" y="7.8" width="150.4" height="136" fill="#fff" stroke="#000" stroke-width="2.2"/>
<g stroke-width="2.2" fill="none">
<path d="M527.8 14.7H548.7" stroke="#000"/>
<path d="M527.8 30.6H548.7" stroke="#f00"/>
<path d="M527.8 46.2H548.7" stroke="#0f0"/>
</g>
<g font-size="11">
<text x="550.6" y="18.1">ZnO</text>
<text x="550.6" y="34.3" textLength="98" lengthAdjust="spacing">ZnO:Er (Sapphire)</text>
<text x="550.6" y="48.6" textLength="81" lengthAdjust="spacing">ZnO:Er(silicon)</text>
</g>
<path d="M527.5 143.8C530.3 143.8 539.8 144.1 544.1 143.9C548.4 143.7 550.2 143.0 553.3 142.4C556.4 141.8 559.5 141.7 562.5 140.6C565.5 139.5 568.9 137.8 571.6 136.0C574.3 134.2 576.5 132.2 578.9 129.6C581.3 127.0 584.1 123.7 586.3 120.4C588.4 117.1 589.9 113.5 591.8 110.0C593.7 106.5 595.5 103.1 597.5 99.5C599.5 95.9 601.6 92.1 603.7 88.2C605.8 84.3 607.9 80.1 610.0 76.2C612.1 72.3 614.3 67.9 616.2 64.8C618.1 61.7 619.7 59.1 621.4 57.5C623.1 55.9 624.9 55.4 626.6 55.4C628.3 55.4 630.1 55.8 631.8 57.5C633.5 59.2 635.3 62.3 637.0 65.8C638.7 69.3 640.5 74.0 642.2 78.3C643.9 82.6 645.5 86.9 647.4 91.8C649.3 96.7 651.5 102.4 653.6 107.4C655.7 112.4 657.7 117.8 659.8 121.9C661.9 126.1 664.0 129.2 666.1 132.3C668.2 135.4 670.6 138.7 672.3 140.6C673.9 142.5 675.4 143.0 676.0 143.5" fill="none" stroke="#000" stroke-width="1.8" stroke-linejoin="round" stroke-linecap="round"/><path d="M527.5 143.8C528.8 143.7 532.2 143.8 535.0 143.3C537.8 142.8 541.1 141.7 544.1 140.6C547.1 139.5 550.2 138.3 553.3 136.9C556.4 135.5 559.5 134.1 562.5 132.3C565.5 130.5 568.9 128.2 571.6 125.9C574.3 123.6 576.5 121.3 578.9 118.6C581.3 115.9 583.8 112.5 586.3 109.5C588.8 106.5 591.5 102.8 593.6 100.3C595.7 97.8 597.4 96.5 599.1 94.8C600.8 93.1 602.2 91.8 604.0 90.2C605.8 88.7 608.0 86.6 610.0 85.5C612.0 84.4 614.3 83.7 616.2 83.5C618.1 83.3 619.7 83.6 621.4 84.1C623.1 84.6 624.9 85.1 626.6 86.6C628.3 88.0 630.1 90.0 631.8 92.8C633.5 95.6 635.1 99.4 637.0 103.2C638.9 107.0 641.1 111.5 643.2 115.7C645.3 119.9 647.3 124.7 649.4 128.2C651.5 131.7 653.6 134.1 655.7 136.5C657.8 138.9 660.2 141.4 661.9 142.7C663.6 144.0 665.4 144.2 666.1 144.5" fill="none" stroke="#f00" stroke-width="1.8" stroke-linejoin="round" stroke-linecap="round"/><path d="M525.8 143.3C527.3 143.0 532.0 142.4 535.0 141.5C538.0 140.6 541.1 139.0 544.1 137.8C547.1 136.6 550.2 135.6 553.3 134.2C556.4 132.8 559.5 131.6 562.5 129.6C565.5 127.6 568.9 125.0 571.6 122.3C574.3 119.5 576.5 116.5 578.9 113.1C581.3 109.7 583.8 105.8 586.3 102.1C588.8 98.4 591.5 94.1 593.6 91.1C595.7 88.0 597.4 85.7 599.1 83.8C600.8 81.9 602.2 81.1 604.0 79.5C605.8 77.9 608.0 75.5 610.0 74.1C612.0 72.7 614.5 71.5 616.2 71.0C617.9 70.5 618.9 70.7 620.3 71.0C621.7 71.3 622.9 71.7 624.5 73.1C626.1 74.5 628.0 76.7 629.7 79.3C631.4 81.9 633.0 85.1 634.9 88.7C636.8 92.3 639.0 96.9 641.1 101.1C643.2 105.2 645.3 109.4 647.4 113.6C649.5 117.8 651.5 122.6 653.6 126.1C655.7 129.6 657.7 132.0 659.8 134.4C661.9 136.8 664.4 139.0 666.1 140.6C667.8 142.2 669.5 143.3 670.2 143.8" fill="none" stroke="#0f0" stroke-width="1.8" stroke-linejoin="round" stroke-linecap="round"/>
<path d="M561.5 143V140.8M601 143V140.8M640.5 143V140.8" stroke="#000" stroke-width="1.5"/>
<text x="615.8" y="102.3" font-size="15">A'</text>
<g font-size="14.8" text-anchor="middle">
<text x="561.1" y="159.3">532</text><text x="600.8" y="159.3">533</text><text x="640.3" y="159.3">534</text>
</g>
<text x="620.2" y="177.4" font-size="14.4" text-anchor="middle">E(eV)</text>
</g>

<!-- ===== Inset B2 ===== -->
<g id="ib2">
<rect x="467" y="236" width="202.5" height="147.5" fill="#fff" stroke="#000" stroke-width="2.2"/>
<path d="M468.0 343.0C469.2 342.2 473.6 340.9 475.3 338.1C477.1 335.3 477.6 330.6 478.5 326.3C479.4 322.0 480.1 312.8 480.9 312.3C481.7 311.8 482.4 317.2 483.1 323.2C483.8 329.2 484.5 339.0 485.3 348.1C486.1 357.2 487.1 374.5 487.8 377.6C488.5 380.7 488.8 372.7 489.3 366.7C489.8 360.7 490.1 351.6 490.9 341.8C491.7 332.0 493.0 318.0 494.0 307.6C495.0 297.2 495.8 287.1 497.1 279.6C498.4 272.1 500.4 267.2 501.8 262.5C503.2 257.8 504.7 254.7 505.8 251.6C506.9 248.5 507.5 243.0 508.6 243.8C509.8 244.6 511.5 250.8 512.7 256.2C513.9 261.6 514.5 268.4 515.8 276.5C517.1 284.6 519.0 297.2 520.5 304.5C522.0 311.8 523.3 316.6 525.1 320.0C526.9 323.4 529.3 322.9 531.4 324.7C533.5 326.5 535.8 327.8 537.6 330.9C539.4 334.0 540.9 339.2 542.3 343.4C543.7 347.5 544.6 352.3 546.0 355.8C547.4 359.3 548.9 362.6 550.4 364.5C551.9 366.4 553.8 367.7 555.2 367.4C556.6 367.1 557.4 365.1 559.0 362.6C560.6 360.1 562.8 354.7 564.7 352.2C566.6 349.7 568.2 348.2 570.4 347.4C572.6 346.6 575.5 347.0 578.0 347.4C580.5 347.8 583.0 350.0 585.5 349.7C588.0 349.4 590.2 347.0 593.1 345.5C596.0 344.0 599.4 342.5 602.6 340.8C605.8 339.1 608.9 336.8 612.1 335.1C615.3 333.4 618.1 331.6 621.6 330.4C625.1 329.2 629.8 328.5 633.0 328.1C636.2 327.7 637.8 327.6 640.6 328.1C643.5 328.6 647.0 330.0 650.1 331.3C653.2 332.6 656.6 334.4 659.5 336.1C662.4 337.8 666.2 340.6 667.5 341.5" fill="none" stroke="#f00" stroke-width="1.6" stroke-linejoin="round" stroke-linecap="round"/><path d="M466.8 343.0h2.4M468.0 341.8v2.4" stroke="#f00" stroke-width="0.9"/><path d="M468.8 342.0h2.4M470.0 340.8v2.4" stroke="#f00" stroke-width="0.9"/><path d="M470.7 341.0h2.4M471.9 339.8v2.4" stroke="#f00" stroke-width="0.9"/><path d="M472.6 339.8h2.4M473.8 338.6v2.4" stroke="#f00" stroke-width="0.9"/><path d="M474.0 338.2h2.4M475.2 337.0v2.4" stroke="#f00" stroke-width="0.9"/><path d="M475.0 336.2h2.4M476.2 335.0v2.4" stroke="#f00" stroke-width="0.9"/><path d="M475.7 334.1h2.4M476.9 332.9v2.4" stroke="#f00" stroke-width="0.9"/><path d="M476.2 332.0h2.4M477.4 330.8v2.4" stroke="#f00" stroke-width="0.9"/><path d="M476.6 329.8h2.4M477.8 328.6v2.4" stroke="#f00" stroke-width="0.9"/><path d="M477.0 327.7h2.4M478.2 326.5v2.4" stroke="#f00" stroke-width="0.9"/><path d="M477.5 325.5h2.4M478.7 324.3v2.4" stroke="#f00" stroke-width="0.9"/><path d="M477.8 323.3h2.4M479.0 322.1v2.4" stroke="#f00" stroke-width="0.9"/><path d="M478.1 321.2h2.4M479.3 320.0v2.4" stroke="#f00" stroke-width="0.9"/><path d="M478.4 319.0h2.4M479.6 317.8v2.4" stroke="#f00" stroke-width="0.9"/><path d="M478.7 316.8h2.4M479.9 315.6v2.4" stroke="#f00" stroke-width="0.9"/><path d="M479.0 314.6h2.4M480.2 313.4v2.4" stroke="#f00" stroke-width="0.9"/><path d="M479.6 312.5h2.4M480.8 311.3v2.4" stroke="#f00" stroke-width="0.9"/><path d="M480.5 313.9h2.4M481.7 312.7v2.4" stroke="#f00" stroke-width="0.9"/><path d="M480.9 316.1h2.4M482.1 314.9v2.4" stroke="#f00" stroke-width="0.9"/><path d="M481.3 318.2h2.4M482.5 317.0v2.4" stroke="#f00" stroke-width="0.9"/><path d="M481.6 320.4h2.4M482.8 319.2v2.4" stroke="#f00" stroke-width="0.9"/><path d="M481.8 322.6h2.4M483.0 321.4v2.4" stroke="#f00" stroke-width="0.9"/><path d="M482.1 324.8h2.4M483.3 323.6v2.4" stroke="#f00" stroke-width="0.9"/><path d="M482.3 327.0h2.4M483.5 325.8v2.4" stroke="#f00" stroke-width="0.9"/><path d="M482.5 329.2h2.4M483.7 328.0v2.4" stroke="#f00" stroke-width="0.9"/><path d="M482.7 331.4h2.4M483.9 330.2v2.4" stroke="#f00" stroke-width="0.9"/><path d="M482.9 333.6h2.4M484.1 332.4v2.4" stroke="#f00" stroke-width="0.9"/><path d="M483.1 335.7h2.4M484.3 334.5v2.4" stroke="#f00" stroke-width="0.9"/><path d="M483.3 337.9h2.4M484.5 336.7v2.4" stroke="#f00" stroke-width="0.9"/><path d="M483.4 340.1h2.4M484.6 338.9v2.4" stroke="#f00" stroke-width="0.9"/><path d="M483.6 342.3h2.4M484.8 341.1v2.4" stroke="#f00" stroke-width="0.9"/><path d="M483.8 344.5h2.4M485.0 343.3v2.4" stroke="#f00" stroke-width="0.9"/><path d="M484.0 346.7h2.4M485.2 345.5v2.4" stroke="#f00" stroke-width="0.9"/><path d="M484.2 348.9h2.4M485.4 347.7v2.4" stroke="#f00" stroke-width="0.9"/><path d="M484.3 351.1h2.4M485.5 349.9v2.4" stroke="#f00" stroke-width="0.9"/><path d="M484.5 353.3h2.4M485.7 352.1v2.4" stroke="#f00" stroke-width="0.9"/><path d="M484.7 355.5h2.4M485.9 354.3v2.4" stroke="#f00" stroke-width="0.9"/><path d="M484.8 357.7h2.4M486.0 356.5v2.4" stroke="#f00" stroke-width="0.9"/><path d="M485.0 359.9h2.4M486.2 358.7v2.4" stroke="#f00" stroke-width="0.9"/><path d="M485.2 362.1h2.4M486.4 360.9v2.4" stroke="#f00" stroke-width="0.9"/><path d="M485.3 364.3h2.4M486.5 363.1v2.4" stroke="#f00" stroke-width="0.9"/><path d="M485.5 366.4h2.4M486.7 365.2v2.4" stroke="#f00" stroke-width="0.9"/><path d="M485.7 368.6h2.4M486.9 367.4v2.4" stroke="#f00" stroke-width="0.9"/><path d="M485.9 370.8h2.4M487.1 369.6v2.4" stroke="#f00" stroke-width="0.9"/><path d="M486.0 373.0h2.4M487.2 371.8v2.4" stroke="#f00" stroke-width="0.9"/><path d="M486.3 375.2h2.4M487.5 374.0v2.4" stroke="#f00" stroke-width="0.9"/><path d="M486.6 377.4h2.4M487.8 376.2v2.4" stroke="#f00" stroke-width="0.9"/><path d="M487.2 377.1h2.4M488.4 375.9v2.4" stroke="#f00" stroke-width="0.9"/><path d="M487.5 375.0h2.4M488.7 373.8v2.4" stroke="#f00" stroke-width="0.9"/><path d="M487.6 372.8h2.4M488.8 371.6v2.4" stroke="#f00" stroke-width="0.9"/><path d="M487.8 370.6h2.4M489.0 369.4v2.4" stroke="#f00" stroke-width="0.9"/><path d="M488.0 368.4h2.4M489.2 367.2v2.4" stroke="#f00" stroke-width="0.9"/><path d="M488.1 366.2h2.4M489.3 365.0v2.4" stroke="#f00" stroke-width="0.9"/><path d="M488.3 364.0h2.4M489.5 362.8v2.4" stroke="#f00" stroke-width="0.9"/><path d="M488.5 361.8h2.4M489.7 360.6v2.4" stroke="#f00" stroke-width="0.9"/><path d="M488.6 359.6h2.4M489.8 358.4v2.4" stroke="#f00" stroke-width="0.9"/><path d="M488.7 357.4h2.4M489.9 356.2v2.4" stroke="#f00" stroke-width="0.9"/><path d="M488.8 355.2h2.4M490.0 354.0v2.4" stroke="#f00" stroke-width="0.9"/><path d="M489.0 353.0h2.4M490.2 351.8v2.4" stroke="#f00" stroke-width="0.9"/><path d="M489.1 350.8h2.4M490.3 349.6v2.4" stroke="#f00" stroke-width="0.9"/><path d="M489.2 348.6h2.4M490.4 347.4v2.4" stroke="#f00" stroke-width="0.9"/><path d="M489.4 346.4h2.4M490.6 345.2v2.4" stroke="#f00" stroke-width="0.9"/><path d="M489.5 344.2h2.4M490.7 343.0v2.4" stroke="#f00" stroke-width="0.9"/><path d="M489.7 342.0h2.4M490.9 340.8v2.4" stroke="#f00" stroke-width="0.9"/><path d="M489.9 339.8h2.4M491.1 338.6v2.4" stroke="#f00" stroke-width="0.9"/><path d="M490.0 337.6h2.4M491.2 336.4v2.4" stroke="#f00" stroke-width="0.9"/><path d="M490.2 335.5h2.4M491.4 334.3v2.4" stroke="#f00" stroke-width="0.9"/><path d="M490.4 333.3h2.4M491.6 332.1v2.4" stroke="#f00" stroke-width="0.9"/><path d="M490.6 331.1h2.4M491.8 329.9v2.4" stroke="#f00" stroke-width="0.9"/><path d="M490.8 328.9h2.4M492.0 327.7v2.4" stroke="#f00" stroke-width="0.9"/><path d="M491.0 326.7h2.4M492.2 325.5v2.4" stroke="#f00" stroke-width="0.9"/><path d="M491.2 324.5h2.4M492.4 323.3v2.4" stroke="#f00" stroke-width="0.9"/><path d="M491.4 322.3h2.4M492.6 321.1v2.4" stroke="#f00" stroke-width="0.9"/><path d="M491.6 320.1h2.4M492.8 318.9v2.4" stroke="#f00" stroke-width="0.9"/><path d="M491.8 317.9h2.4M493.0 316.7v2.4" stroke="#f00" stroke-width="0.9"/><path d="M492.0 315.7h2.4M493.2 314.5v2.4" stroke="#f00" stroke-width="0.9"/><path d="M492.2 313.5h2.4M493.4 312.3v2.4" stroke="#f00" stroke-width="0.9"/><path d="M492.4 311.4h2.4M493.6 310.2v2.4" stroke="#f00" stroke-width="0.9"/><path d="M492.6 309.2h2.4M493.8 308.0v2.4" stroke="#f00" stroke-width="0.9"/><path d="M492.9 307.0h2.4M494.1 305.8v2.4" stroke="#f00" stroke-width="0.9"/><path d="M493.1 304.8h2.4M494.3 303.6v2.4" stroke="#f00" stroke-width="0.9"/><path d="M493.3 302.6h2.4M494.5 301.4v2.4" stroke="#f00" stroke-width="0.9"/><path d="M493.5 300.4h2.4M494.7 299.2v2.4" stroke="#f00" stroke-width="0.9"/><path d="M493.7 298.2h2.4M494.9 297.0v2.4" stroke="#f00" stroke-width="0.9"/><path d="M493.9 296.0h2.4M495.1 294.8v2.4" stroke="#f00" stroke-width="0.9"/><path d="M494.1 293.8h2.4M495.3 292.6v2.4" stroke="#f00" stroke-width="0.9"/><path d="M494.3 291.6h2.4M495.5 290.4v2.4" stroke="#f00" stroke-width="0.9"/><path d="M494.6 289.5h2.4M495.8 288.3v2.4" stroke="#f00" stroke-width="0.9"/><path d="M494.8 287.3h2.4M496.0 286.1v2.4" stroke="#f00" stroke-width="0.9"/><path d="M495.1 285.1h2.4M496.3 283.9v2.4" stroke="#f00" stroke-width="0.9"/><path d="M495.4 282.9h2.4M496.6 281.7v2.4" stroke="#f00" stroke-width="0.9"/><path d="M495.7 280.7h2.4M496.9 279.5v2.4" stroke="#f00" stroke-width="0.9"/><path d="M496.1 278.6h2.4M497.3 277.4v2.4" stroke="#f00" stroke-width="0.9"/><path d="M496.5 276.4h2.4M497.7 275.2v2.4" stroke="#f00" stroke-width="0.9"/><path d="M497.0 274.3h2.4M498.2 273.1v2.4" stroke="#f00" stroke-width="0.9"/><path d="M497.6 272.1h2.4M498.8 270.9v2.4" stroke="#f00" stroke-width="0.9"/><path d="M498.2 270.0h2.4M499.4 268.8v2.4" stroke="#f00" stroke-width="0.9"/><path d="M498.8 267.9h2.4M500.0 266.7v2.4" stroke="#f00" stroke-width="0.9"/><path d="M499.5 265.8h2.4M500.7 264.6v2.4" stroke="#f00" stroke-width="0.9"/><path d="M500.2 263.7h2.4M501.4 262.5v2.4" stroke="#f00" stroke-width="0.9"/><path d="M500.9 261.6h2.4M502.1 260.4v2.4" stroke="#f00" stroke-width="0.9"/><path d="M501.6 259.6h2.4M502.8 258.4v2.4" stroke="#f00" stroke-width="0.9"/><path d="M502.3 257.5h2.4M503.5 256.3v2.4" stroke="#f00" stroke-width="0.9"/><path d="M503.1 255.4h2.4M504.3 254.2v2.4" stroke="#f00" stroke-width="0.9"/><path d="M503.9 253.4h2.4M505.1 252.2v2.4" stroke="#f00" stroke-width="0.9"/><path d="M504.7 251.3h2.4M505.9 250.1v2.4" stroke="#f00" stroke-width="0.9"/><path d="M505.3 249.2h2.4M506.5 248.0v2.4" stroke="#f00" stroke-width="0.9"/><path d="M505.8 247.1h2.4M507.0 245.9v2.4" stroke="#f00" stroke-width="0.9"/><path d="M506.4 244.9h2.4M507.6 243.7v2.4" stroke="#f00" stroke-width="0.9"/><path d="M507.7 244.1h2.4M508.9 242.9v2.4" stroke="#f00" stroke-width="0.9"/><path d="M508.7 246.1h2.4M509.9 244.9v2.4" stroke="#f00" stroke-width="0.9"/><path d="M509.4 248.1h2.4M510.6 246.9v2.4" stroke="#f00" stroke-width="0.9"/><path d="M510.0 250.3h2.4M511.2 249.1v2.4" stroke="#f00" stroke-width="0.9"/><path d="M510.6 252.4h2.4M511.8 251.2v2.4" stroke="#f00" stroke-width="0.9"/><path d="M511.1 254.5h2.4M512.3 253.3v2.4" stroke="#f00" stroke-width="0.9"/><path d="M511.6 256.7h2.4M512.8 255.5v2.4" stroke="#f00" stroke-width="0.9"/><path d="M512.0 258.8h2.4M513.2 257.6v2.4" stroke="#f00" stroke-width="0.9"/><path d="M512.4 261.0h2.4M513.6 259.8v2.4" stroke="#f00" stroke-width="0.9"/><path d="M512.7 263.2h2.4M513.9 262.0v2.4" stroke="#f00" stroke-width="0.9"/><path d="M513.0 265.3h2.4M514.2 264.1v2.4" stroke="#f00" stroke-width="0.9"/><path d="M513.3 267.5h2.4M514.5 266.3v2.4" stroke="#f00" stroke-width="0.9"/><path d="M513.6 269.7h2.4M514.8 268.5v2.4" stroke="#f00" stroke-width="0.9"/><path d="M513.9 271.9h2.4M515.1 270.7v2.4" stroke="#f00" stroke-width="0.9"/><path d="M514.2 274.1h2.4M515.4 272.9v2.4" stroke="#f00" stroke-width="0.9"/><path d="M514.6 276.2h2.4M515.8 275.0v2.4" stroke="#f00" stroke-width="0.9"/><path d="M514.9 278.4h2.4M516.1 277.2v2.4" stroke="#f00" stroke-width="0.9"/><path d="M515.2 280.6h2.4M516.4 279.4v2.4" stroke="#f00" stroke-width="0.9"/><path d="M515.6 282.8h2.4M516.8 281.6v2.4" stroke="#f00" stroke-width="0.9"/><path d="M515.9 284.9h2.4M517.1 283.7v2.4" stroke="#f00" stroke-width="0.9"/><path d="M516.3 287.1h2.4M517.5 285.9v2.4" stroke="#f00" stroke-width="0.9"/><path d="M516.6 289.3h2.4M517.8 288.1v2.4" stroke="#f00" stroke-width="0.9"/><path d="M517.0 291.4h2.4M518.2 290.2v2.4" stroke="#f00" stroke-width="0.9"/><path d="M517.3 293.6h2.4M518.5 292.4v2.4" stroke="#f00" stroke-width="0.9"/><path d="M517.7 295.8h2.4M518.9 294.6v2.4" stroke="#f00" stroke-width="0.9"/><path d="M518.1 298.0h2.4M519.3 296.8v2.4" stroke="#f00" stroke-width="0.9"/><path d="M518.4 300.1h2.4M519.6 298.9v2.4" stroke="#f00" stroke-width="0.9"/><path d="M518.8 302.3h2.4M520.0 301.1v2.4" stroke="#f00" stroke-width="0.9"/><path d="M519.3 304.4h2.4M520.5 303.2v2.4" stroke="#f00" stroke-width="0.9"/><path d="M519.8 306.6h2.4M521.0 305.4v2.4" stroke="#f00" stroke-width="0.9"/><path d="M520.2 308.7h2.4M521.4 307.5v2.4" stroke="#f00" stroke-width="0.9"/><path d="M520.7 310.9h2.4M521.9 309.7v2.4" stroke="#f00" stroke-width="0.9"/><path d="M521.3 313.0h2.4M522.5 311.8v2.4" stroke="#f00" stroke-width="0.9"/><path d="M521.9 315.1h2.4M523.1 313.9v2.4" stroke="#f00" stroke-width="0.9"/><path d="M522.6 317.2h2.4M523.8 316.0v2.4" stroke="#f00" stroke-width="0.9"/><path d="M523.5 319.2h2.4M524.7 318.0v2.4" stroke="#f00" stroke-width="0.9"/><path d="M524.6 321.1h2.4M525.8 319.9v2.4" stroke="#f00" stroke-width="0.9"/><path d="M526.3 322.6h2.4M527.5 321.4v2.4" stroke="#f00" stroke-width="0.9"/><path d="M528.2 323.5h2.4M529.4 322.3v2.4" stroke="#f00" stroke-width="0.9"/><path d="M530.1 324.6h2.4M531.3 323.4v2.4" stroke="#f00" stroke-width="0.9"/><path d="M531.8 326.0h2.4M533.0 324.8v2.4" stroke="#f00" stroke-width="0.9"/><path d="M533.5 327.4h2.4M534.7 326.2v2.4" stroke="#f00" stroke-width="0.9"/><path d="M535.1 329.0h2.4M536.3 327.8v2.4" stroke="#f00" stroke-width="0.9"/><path d="M536.3 330.8h2.4M537.5 329.6v2.4" stroke="#f00" stroke-width="0.9"/><path d="M537.3 332.7h2.4M538.5 331.5v2.4" stroke="#f00" stroke-width="0.9"/><path d="M538.2 334.8h2.4M539.4 333.6v2.4" stroke="#f00" stroke-width="0.9"/><path d="M538.9 336.8h2.4M540.1 335.6v2.4" stroke="#f00" stroke-width="0.9"/><path d="M539.6 338.9h2.4M540.8 337.7v2.4" stroke="#f00" stroke-width="0.9"/><path d="M540.3 341.0h2.4M541.5 339.8v2.4" stroke="#f00" stroke-width="0.9"/><path d="M541.0 343.1h2.4M542.2 341.9v2.4" stroke="#f00" stroke-width="0.9"/><path d="M541.7 345.2h2.4M542.9 344.0v2.4" stroke="#f00" stroke-width="0.9"/><path d="M542.3 347.3h2.4M543.5 346.1v2.4" stroke="#f00" stroke-width="0.9"/><path d="M542.9 349.4h2.4M544.1 348.2v2.4" stroke="#f00" stroke-width="0.9"/><path d="M543.4 351.6h2.4M544.6 350.4v2.4" stroke="#f00" stroke-width="0.9"/><path d="M544.1 353.7h2.4M545.3 352.5v2.4" stroke="#f00" stroke-width="0.9"/><path d="M544.8 355.7h2.4M546.0 354.5v2.4" stroke="#f00" stroke-width="0.9"/><path d="M545.6 357.8h2.4M546.8 356.6v2.4" stroke="#f00" stroke-width="0.9"/><path d="M546.5 359.8h2.4M547.7 358.6v2.4" stroke="#f00" stroke-width="0.9"/><path d="M547.5 361.8h2.4M548.7 360.6v2.4" stroke="#f00" stroke-width="0.9"/><path d="M548.6 363.7h2.4M549.8 362.5v2.4" stroke="#f00" stroke-width="0.9"/><path d="M550.0 365.4h2.4M551.2 364.2v2.4" stroke="#f00" stroke-width="0.9"/><path d="M551.6 366.8h2.4M552.8 365.6v2.4" stroke="#f00" stroke-width="0.9"/><path d="M553.7 367.4h2.4M554.9 366.2v2.4" stroke="#f00" stroke-width="0.9"/><path d="M555.5 366.3h2.4M556.7 365.1v2.4" stroke="#f00" stroke-width="0.9"/><path d="M556.7 364.5h2.4M557.9 363.3v2.4" stroke="#f00" stroke-width="0.9"/><path d="M557.8 362.6h2.4M559.0 361.4v2.4" stroke="#f00" stroke-width="0.9"/><path d="M558.9 360.6h2.4M560.1 359.4v2.4" stroke="#f00" stroke-width="0.9"/><path d="M559.9 358.7h2.4M561.1 357.5v2.4" stroke="#f00" stroke-width="0.9"/><path d="M560.9 356.7h2.4M562.1 355.5v2.4" stroke="#f00" stroke-width="0.9"/><path d="M561.9 354.8h2.4M563.1 353.6v2.4" stroke="#f00" stroke-width="0.9"/><path d="M563.0 352.9h2.4M564.2 351.7v2.4" stroke="#f00" stroke-width="0.9"/><path d="M564.3 351.1h2.4M565.5 349.9v2.4" stroke="#f00" stroke-width="0.9"/><path d="M565.8 349.5h2.4M567.0 348.3v2.4" stroke="#f00" stroke-width="0.9"/><path d="M567.6 348.2h2.4M568.8 347.0v2.4" stroke="#f00" stroke-width="0.9"/><path d="M569.6 347.3h2.4M570.8 346.1v2.4" stroke="#f00" stroke-width="0.9"/><path d="M571.8 347.0h2.4M573.0 345.8v2.4" stroke="#f00" stroke-width="0.9"/><path d="M574.0 347.0h2.4M575.2 345.8v2.4" stroke="#f00" stroke-width="0.9"/><path d="M576.1 347.3h2.4M577.3 346.1v2.4" stroke="#f00" stroke-width="0.9"/><path d="M578.3 347.8h2.4M579.5 346.6v2.4" stroke="#f00" stroke-width="0.9"/><path d="M580.3 348.7h2.4M581.5 347.5v2.4" stroke="#f00" stroke-width="0.9"/><path d="M582.3 349.5h2.4M583.5 348.3v2.4" stroke="#f00" stroke-width="0.9"/><path d="M584.5 349.7h2.4M585.7 348.5v2.4" stroke="#f00" stroke-width="0.9"/><path d="M586.6 348.9h2.4M587.8 347.7v2.4" stroke="#f00" stroke-width="0.9"/><path d="M588.4 347.7h2.4M589.6 346.5v2.4" stroke="#f00" stroke-width="0.9"/><path d="M590.2 346.5h2.4M591.4 345.3v2.4" stroke="#f00" stroke-width="0.9"/><path d="M592.1 345.4h2.4M593.3 344.2v2.4" stroke="#f00" stroke-width="0.9"/><path d="M594.1 344.4h2.4M595.3 343.2v2.4" stroke="#f00" stroke-width="0.9"/><path d="M596.1 343.5h2.4M597.3 342.3v2.4" stroke="#f00" stroke-width="0.9"/><path d="M598.1 342.5h2.4M599.3 341.3v2.4" stroke="#f00" stroke-width="0.9"/><path d="M600.0 341.5h2.4M601.2 340.3v2.4" stroke="#f00" stroke-width="0.9"/><path d="M602.0 340.5h2.4M603.2 339.3v2.4" stroke="#f00" stroke-width="0.9"/><path d="M603.9 339.4h2.4M605.1 338.2v2.4" stroke="#f00" stroke-width="0.9"/><path d="M605.7 338.2h2.4M606.9 337.0v2.4" stroke="#f00" stroke-width="0.9"/><path d="M607.6 337.0h2.4M608.8 335.8v2.4" stroke="#f00" stroke-width="0.9"/><path d="M609.5 335.9h2.4M610.7 334.7v2.4" stroke="#f00" stroke-width="0.9"/><path d="M611.4 334.8h2.4M612.6 333.6v2.4" stroke="#f00" stroke-width="0.9"/><path d="M613.3 333.7h2.4M614.5 332.5v2.4" stroke="#f00" stroke-width="0.9"/><path d="M615.2 332.7h2.4M616.4 331.5v2.4" stroke="#f00" stroke-width="0.9"/><path d="M617.2 331.7h2.4M618.4 330.5v2.4" stroke="#f00" stroke-width="0.9"/><path d="M619.2 330.8h2.4M620.4 329.6v2.4" stroke="#f00" stroke-width="0.9"/><path d="M621.3 330.1h2.4M622.5 328.9v2.4" stroke="#f00" stroke-width="0.9"/><path d="M623.4 329.5h2.4M624.6 328.3v2.4" stroke="#f00" stroke-width="0.9"/><path d="M625.6 329.1h2.4M626.8 327.9v2.4" stroke="#f00" stroke-width="0.9"/><path d="M627.8 328.7h2.4M629.0 327.5v2.4" stroke="#f00" stroke-width="0.9"/><path d="M629.9 328.3h2.4M631.1 327.1v2.4" stroke="#f00" stroke-width="0.9"/><path d="M632.1 328.1h2.4M633.3 326.9v2.4" stroke="#f00" stroke-width="0.9"/><path d="M634.3 327.8h2.4M635.5 326.6v2.4" stroke="#f00" stroke-width="0.9"/><path d="M636.5 327.8h2.4M637.7 326.6v2.4" stroke="#f00" stroke-width="0.9"/><path d="M638.7 328.0h2.4M639.9 326.8v2.4" stroke="#f00" stroke-width="0.9"/><path d="M640.8 328.4h2.4M642.0 327.2v2.4" stroke="#f00" stroke-width="0.9"/><path d="M642.9 329.0h2.4M644.1 327.8v2.4" stroke="#f00" stroke-width="0.9"/><path d="M645.0 329.8h2.4M646.2 328.6v2.4" stroke="#f00" stroke-width="0.9"/><path d="M647.1 330.5h2.4M648.3 329.3v2.4" stroke="#f00" stroke-width="0.9"/><path d="M649.1 331.4h2.4M650.3 330.2v2.4" stroke="#f00" stroke-width="0.9"/><path d="M651.1 332.3h2.4M652.3 331.1v2.4" stroke="#f00" stroke-width="0.9"/><path d="M653.1 333.3h2.4M654.3 332.1v2.4" stroke="#f00" stroke-width="0.9"/><path d="M655.0 334.3h2.4M656.2 333.1v2.4" stroke="#f00" stroke-width="0.9"/><path d="M657.0 335.3h2.4M658.2 334.1v2.4" stroke="#f00" stroke-width="0.9"/><path d="M658.9 336.4h2.4M660.1 335.2v2.4" stroke="#f00" stroke-width="0.9"/><path d="M660.7 337.6h2.4M661.9 336.4v2.4" stroke="#f00" stroke-width="0.9"/><path d="M662.5 338.9h2.4M663.7 337.7v2.4" stroke="#f00" stroke-width="0.9"/><path d="M664.3 340.1h2.4M665.5 338.9v2.4" stroke="#f00" stroke-width="0.9"/><path d="M666.1 341.4h2.4M667.3 340.2v2.4" stroke="#f00" stroke-width="0.9"/><path d="M468.0 343.4C469.2 342.5 473.6 342.5 475.3 338.1C477.1 333.7 477.6 323.3 478.5 316.9C479.4 310.5 480.1 300.8 480.9 299.8C481.7 298.8 482.4 304.2 483.1 310.7C483.8 317.2 484.6 330.9 485.3 338.7C486.0 346.5 486.7 353.5 487.2 357.4C487.7 361.3 487.9 364.7 488.4 362.1C488.9 359.5 489.6 349.9 490.3 341.8C491.0 333.8 491.6 323.1 492.5 313.8C493.4 304.5 494.3 293.6 495.6 285.8C496.9 278.0 498.6 272.3 500.2 267.1C501.8 261.9 503.5 258.1 504.9 254.7C506.3 251.3 507.3 245.9 508.6 246.9C509.9 247.9 511.5 255.4 512.7 260.9C513.9 266.3 514.8 273.4 515.8 279.6C516.8 285.8 517.9 293.4 518.9 298.3C519.9 303.2 520.7 306.4 522.0 309.2C523.3 312.0 524.9 314.0 526.7 315.4C528.5 316.8 530.8 315.8 532.9 317.6C535.0 319.4 537.1 322.3 539.2 326.3C541.3 330.3 543.7 337.6 545.7 341.7C547.7 345.8 549.8 349.1 551.4 351.2C553.0 353.3 553.9 354.2 555.2 354.1C556.5 354.0 557.4 352.2 559.0 350.3C560.6 348.4 562.8 344.5 564.7 342.7C566.6 340.9 568.2 339.8 570.4 339.5C572.6 339.2 575.5 340.3 578.0 340.8C580.5 341.3 583.0 342.9 585.5 342.7C588.0 342.5 590.2 340.9 593.1 339.8C596.0 338.7 599.4 337.4 602.6 336.1C605.8 334.9 608.9 333.4 612.1 332.3C615.3 331.2 618.4 329.8 621.6 329.4C624.8 329.0 627.9 329.8 631.1 330.0C634.3 330.2 637.4 329.9 640.6 330.4C643.8 330.9 647.0 332.1 650.1 333.2C653.2 334.3 656.6 335.7 659.5 337.0C662.4 338.3 666.2 340.3 667.5 341.0" fill="none" stroke="#0f0" stroke-width="1.6" stroke-linejoin="round" stroke-linecap="round"/><circle cx="468.0" cy="343.4" r="1.1" fill="#0f0"/><circle cx="470.0" cy="342.6" r="1.1" fill="#0f0"/><circle cx="472.1" cy="341.8" r="1.1" fill="#0f0"/><circle cx="473.8" cy="340.4" r="1.1" fill="#0f0"/><circle cx="475.1" cy="338.6" r="1.1" fill="#0f0"/><circle cx="475.8" cy="336.6" r="1.1" fill="#0f0"/><circle cx="476.3" cy="334.4" r="1.1" fill="#0f0"/><circle cx="476.7" cy="332.3" r="1.1" fill="#0f0"/><circle cx="477.0" cy="330.1" r="1.1" fill="#0f0"/><circle cx="477.2" cy="327.9" r="1.1" fill="#0f0"/><circle cx="477.5" cy="325.7" r="1.1" fill="#0f0"/><circle cx="477.7" cy="323.5" r="1.1" fill="#0f0"/><circle cx="478.0" cy="321.3" r="1.1" fill="#0f0"/><circle cx="478.2" cy="319.1" r="1.1" fill="#0f0"/><circle cx="478.5" cy="317.0" r="1.1" fill="#0f0"/><circle cx="478.8" cy="314.8" r="1.1" fill="#0f0"/><circle cx="479.1" cy="312.6" r="1.1" fill="#0f0"/><circle cx="479.3" cy="310.4" r="1.1" fill="#0f0"/><circle cx="479.5" cy="308.2" r="1.1" fill="#0f0"/><circle cx="479.8" cy="306.0" r="1.1" fill="#0f0"/><circle cx="480.1" cy="303.9" r="1.1" fill="#0f0"/><circle cx="480.4" cy="301.7" r="1.1" fill="#0f0"/><circle cx="481.1" cy="299.7" r="1.1" fill="#0f0"/><circle cx="481.9" cy="301.7" r="1.1" fill="#0f0"/><circle cx="482.2" cy="303.8" r="1.1" fill="#0f0"/><circle cx="482.5" cy="306.0" r="1.1" fill="#0f0"/><circle cx="482.8" cy="308.2" r="1.1" fill="#0f0"/><circle cx="483.1" cy="310.4" r="1.1" fill="#0f0"/><circle cx="483.3" cy="312.6" r="1.1" fill="#0f0"/><circle cx="483.5" cy="314.8" r="1.1" fill="#0f0"/><circle cx="483.7" cy="317.0" r="1.1" fill="#0f0"/><circle cx="483.8" cy="319.1" r="1.1" fill="#0f0"/><circle cx="484.0" cy="321.3" r="1.1" fill="#0f0"/><circle cx="484.2" cy="323.5" r="1.1" fill="#0f0"/><circle cx="484.3" cy="325.7" r="1.1" fill="#0f0"/><circle cx="484.5" cy="327.9" r="1.1" fill="#0f0"/><circle cx="484.6" cy="330.1" r="1.1" fill="#0f0"/><circle cx="484.8" cy="332.3" r="1.1" fill="#0f0"/><circle cx="485.0" cy="334.5" r="1.1" fill="#0f0"/><circle cx="485.1" cy="336.7" r="1.1" fill="#0f0"/><circle cx="485.3" cy="338.9" r="1.1" fill="#0f0"/><circle cx="485.5" cy="341.1" r="1.1" fill="#0f0"/><circle cx="485.7" cy="343.3" r="1.1" fill="#0f0"/><circle cx="485.9" cy="345.5" r="1.1" fill="#0f0"/><circle cx="486.1" cy="347.7" r="1.1" fill="#0f0"/><circle cx="486.3" cy="349.8" r="1.1" fill="#0f0"/><circle cx="486.6" cy="352.0" r="1.1" fill="#0f0"/><circle cx="486.8" cy="354.2" r="1.1" fill="#0f0"/><circle cx="487.1" cy="356.4" r="1.1" fill="#0f0"/><circle cx="487.3" cy="358.6" r="1.1" fill="#0f0"/><circle cx="487.6" cy="360.8" r="1.1" fill="#0f0"/><circle cx="488.0" cy="362.9" r="1.1" fill="#0f0"/><circle cx="488.6" cy="361.0" r="1.1" fill="#0f0"/><circle cx="488.8" cy="358.8" r="1.1" fill="#0f0"/><circle cx="489.0" cy="356.7" r="1.1" fill="#0f0"/><circle cx="489.2" cy="354.5" r="1.1" fill="#0f0"/><circle cx="489.4" cy="352.3" r="1.1" fill="#0f0"/><circle cx="489.6" cy="350.1" r="1.1" fill="#0f0"/><circle cx="489.8" cy="347.9" r="1.1" fill="#0f0"/><circle cx="490.0" cy="345.7" r="1.1" fill="#0f0"/><circle cx="490.2" cy="343.5" r="1.1" fill="#0f0"/><circle cx="490.3" cy="341.3" r="1.1" fill="#0f0"/><circle cx="490.5" cy="339.1" r="1.1" fill="#0f0"/><circle cx="490.7" cy="336.9" r="1.1" fill="#0f0"/><circle cx="490.9" cy="334.7" r="1.1" fill="#0f0"/><circle cx="491.0" cy="332.5" r="1.1" fill="#0f0"/><circle cx="491.2" cy="330.3" r="1.1" fill="#0f0"/><circle cx="491.3" cy="328.1" r="1.1" fill="#0f0"/><circle cx="491.5" cy="326.0" r="1.1" fill="#0f0"/><circle cx="491.7" cy="323.8" r="1.1" fill="#0f0"/><circle cx="491.8" cy="321.6" r="1.1" fill="#0f0"/><circle cx="492.0" cy="319.4" r="1.1" fill="#0f0"/><circle cx="492.2" cy="317.2" r="1.1" fill="#0f0"/><circle cx="492.4" cy="315.0" r="1.1" fill="#0f0"/><circle cx="492.6" cy="312.8" r="1.1" fill="#0f0"/><circle cx="492.8" cy="310.6" r="1.1" fill="#0f0"/><circle cx="493.0" cy="308.4" r="1.1" fill="#0f0"/><circle cx="493.2" cy="306.2" r="1.1" fill="#0f0"/><circle cx="493.4" cy="304.0" r="1.1" fill="#0f0"/><circle cx="493.6" cy="301.8" r="1.1" fill="#0f0"/><circle cx="493.9" cy="299.7" r="1.1" fill="#0f0"/><circle cx="494.1" cy="297.5" r="1.1" fill="#0f0"/><circle cx="494.3" cy="295.3" r="1.1" fill="#0f0"/><circle cx="494.6" cy="293.1" r="1.1" fill="#0f0"/><circle cx="494.9" cy="290.9" r="1.1" fill="#0f0"/><circle cx="495.2" cy="288.7" r="1.1" fill="#0f0"/><circle cx="495.5" cy="286.6" r="1.1" fill="#0f0"/><circle cx="495.8" cy="284.4" r="1.1" fill="#0f0"/><circle cx="496.2" cy="282.2" r="1.1" fill="#0f0"/><circle cx="496.7" cy="280.1" r="1.1" fill="#0f0"/><circle cx="497.2" cy="277.9" r="1.1" fill="#0f0"/><circle cx="497.7" cy="275.8" r="1.1" fill="#0f0"/><circle cx="498.3" cy="273.7" r="1.1" fill="#0f0"/><circle cx="498.9" cy="271.6" r="1.1" fill="#0f0"/><circle cx="499.5" cy="269.4" r="1.1" fill="#0f0"/><circle cx="500.1" cy="267.3" r="1.1" fill="#0f0"/><circle cx="500.8" cy="265.2" r="1.1" fill="#0f0"/><circle cx="501.5" cy="263.2" r="1.1" fill="#0f0"/><circle cx="502.3" cy="261.1" r="1.1" fill="#0f0"/><circle cx="503.1" cy="259.0" r="1.1" fill="#0f0"/><circle cx="503.9" cy="257.0" r="1.1" fill="#0f0"/><circle cx="504.8" cy="255.0" r="1.1" fill="#0f0"/><circle cx="505.6" cy="252.9" r="1.1" fill="#0f0"/><circle cx="506.2" cy="250.8" r="1.1" fill="#0f0"/><circle cx="506.9" cy="248.8" r="1.1" fill="#0f0"/><circle cx="508.0" cy="246.9" r="1.1" fill="#0f0"/><circle cx="509.4" cy="248.2" r="1.1" fill="#0f0"/><circle cx="510.1" cy="250.3" r="1.1" fill="#0f0"/><circle cx="510.7" cy="252.4" r="1.1" fill="#0f0"/><circle cx="511.3" cy="254.5" r="1.1" fill="#0f0"/><circle cx="511.8" cy="256.7" r="1.1" fill="#0f0"/><circle cx="512.2" cy="258.8" r="1.1" fill="#0f0"/><circle cx="512.7" cy="261.0" r="1.1" fill="#0f0"/><circle cx="513.2" cy="263.1" r="1.1" fill="#0f0"/><circle cx="513.6" cy="265.3" r="1.1" fill="#0f0"/><circle cx="513.9" cy="267.5" r="1.1" fill="#0f0"/><circle cx="514.3" cy="269.6" r="1.1" fill="#0f0"/><circle cx="514.6" cy="271.8" r="1.1" fill="#0f0"/><circle cx="514.9" cy="274.0" r="1.1" fill="#0f0"/><circle cx="515.3" cy="276.2" r="1.1" fill="#0f0"/><circle cx="515.6" cy="278.3" r="1.1" fill="#0f0"/><circle cx="516.0" cy="280.5" r="1.1" fill="#0f0"/><circle cx="516.3" cy="282.7" r="1.1" fill="#0f0"/><circle cx="516.6" cy="284.9" r="1.1" fill="#0f0"/><circle cx="517.0" cy="287.0" r="1.1" fill="#0f0"/><circle cx="517.3" cy="289.2" r="1.1" fill="#0f0"/><circle cx="517.7" cy="291.4" r="1.1" fill="#0f0"/><circle cx="518.0" cy="293.6" r="1.1" fill="#0f0"/><circle cx="518.4" cy="295.7" r="1.1" fill="#0f0"/><circle cx="518.8" cy="297.9" r="1.1" fill="#0f0"/><circle cx="519.3" cy="300.0" r="1.1" fill="#0f0"/><circle cx="519.8" cy="302.2" r="1.1" fill="#0f0"/><circle cx="520.3" cy="304.3" r="1.1" fill="#0f0"/><circle cx="520.9" cy="306.4" r="1.1" fill="#0f0"/><circle cx="521.7" cy="308.5" r="1.1" fill="#0f0"/><circle cx="522.6" cy="310.5" r="1.1" fill="#0f0"/><circle cx="523.8" cy="312.3" r="1.1" fill="#0f0"/><circle cx="525.2" cy="314.0" r="1.1" fill="#0f0"/><circle cx="526.8" cy="315.5" r="1.1" fill="#0f0"/><circle cx="528.9" cy="316.2" r="1.1" fill="#0f0"/><circle cx="531.0" cy="316.6" r="1.1" fill="#0f0"/><circle cx="533.0" cy="317.7" r="1.1" fill="#0f0"/><circle cx="534.5" cy="319.2" r="1.1" fill="#0f0"/><circle cx="535.9" cy="320.9" r="1.1" fill="#0f0"/><circle cx="537.1" cy="322.7" r="1.1" fill="#0f0"/><circle cx="538.3" cy="324.6" r="1.1" fill="#0f0"/><circle cx="539.3" cy="326.5" r="1.1" fill="#0f0"/><circle cx="540.3" cy="328.5" r="1.1" fill="#0f0"/><circle cx="541.1" cy="330.6" r="1.1" fill="#0f0"/><circle cx="542.0" cy="332.6" r="1.1" fill="#0f0"/><circle cx="542.8" cy="334.6" r="1.1" fill="#0f0"/><circle cx="543.6" cy="336.7" r="1.1" fill="#0f0"/><circle cx="544.4" cy="338.7" r="1.1" fill="#0f0"/><circle cx="545.3" cy="340.8" r="1.1" fill="#0f0"/><circle cx="546.2" cy="342.7" r="1.1" fill="#0f0"/><circle cx="547.2" cy="344.7" r="1.1" fill="#0f0"/><circle cx="548.3" cy="346.6" r="1.1" fill="#0f0"/><circle cx="549.5" cy="348.5" r="1.1" fill="#0f0"/><circle cx="550.7" cy="350.3" r="1.1" fill="#0f0"/><circle cx="552.1" cy="352.0" r="1.1" fill="#0f0"/><circle cx="553.6" cy="353.6" r="1.1" fill="#0f0"/><circle cx="555.6" cy="354.0" r="1.1" fill="#0f0"/><circle cx="557.3" cy="352.5" r="1.1" fill="#0f0"/><circle cx="558.6" cy="350.8" r="1.1" fill="#0f0"/><circle cx="560.0" cy="349.0" r="1.1" fill="#0f0"/><circle cx="561.2" cy="347.2" r="1.1" fill="#0f0"/><circle cx="562.5" cy="345.4" r="1.1" fill="#0f0"/><circle cx="563.8" cy="343.7" r="1.1" fill="#0f0"/><circle cx="565.3" cy="342.1" r="1.1" fill="#0f0"/><circle cx="567.1" cy="340.8" r="1.1" fill="#0f0"/><circle cx="569.1" cy="339.8" r="1.1" fill="#0f0"/><circle cx="571.2" cy="339.4" r="1.1" fill="#0f0"/><circle cx="573.4" cy="339.7" r="1.1" fill="#0f0"/><circle cx="575.5" cy="340.2" r="1.1" fill="#0f0"/><circle cx="577.7" cy="340.7" r="1.1" fill="#0f0"/><circle cx="579.8" cy="341.3" r="1.1" fill="#0f0"/><circle cx="581.9" cy="342.1" r="1.1" fill="#0f0"/><circle cx="584.0" cy="342.6" r="1.1" fill="#0f0"/><circle cx="586.2" cy="342.6" r="1.1" fill="#0f0"/><circle cx="588.3" cy="342.0" r="1.1" fill="#0f0"/><circle cx="590.3" cy="341.1" r="1.1" fill="#0f0"/><circle cx="592.3" cy="340.1" r="1.1" fill="#0f0"/><circle cx="594.3" cy="339.3" r="1.1" fill="#0f0"/><circle cx="596.4" cy="338.5" r="1.1" fill="#0f0"/><circle cx="598.4" cy="337.7" r="1.1" fill="#0f0"/><circle cx="600.5" cy="336.9" r="1.1" fill="#0f0"/><circle cx="602.5" cy="336.1" r="1.1" fill="#0f0"/><circle cx="604.6" cy="335.3" r="1.1" fill="#0f0"/><circle cx="606.6" cy="334.5" r="1.1" fill="#0f0"/><circle cx="608.6" cy="333.6" r="1.1" fill="#0f0"/><circle cx="610.7" cy="332.8" r="1.1" fill="#0f0"/><circle cx="612.7" cy="332.1" r="1.1" fill="#0f0"/><circle cx="614.8" cy="331.3" r="1.1" fill="#0f0"/><circle cx="616.9" cy="330.6" r="1.1" fill="#0f0"/><circle cx="619.0" cy="329.9" r="1.1" fill="#0f0"/><circle cx="621.1" cy="329.5" r="1.1" fill="#0f0"/><circle cx="623.3" cy="329.3" r="1.1" fill="#0f0"/><circle cx="625.5" cy="329.4" r="1.1" fill="#0f0"/><circle cx="627.7" cy="329.7" r="1.1" fill="#0f0"/><circle cx="629.9" cy="329.9" r="1.1" fill="#0f0"/><circle cx="632.1" cy="330.0" r="1.1" fill="#0f0"/><circle cx="634.3" cy="330.1" r="1.1" fill="#0f0"/><circle cx="636.5" cy="330.1" r="1.1" fill="#0f0"/><circle cx="638.7" cy="330.2" r="1.1" fill="#0f0"/><circle cx="640.9" cy="330.4" r="1.1" fill="#0f0"/><circle cx="643.0" cy="330.9" r="1.1" fill="#0f0"/><circle cx="645.1" cy="331.5" r="1.1" fill="#0f0"/><circle cx="647.2" cy="332.2" r="1.1" fill="#0f0"/><circle cx="649.3" cy="332.9" r="1.1" fill="#0f0"/><circle cx="651.4" cy="333.7" r="1.1" fill="#0f0"/><circle cx="653.4" cy="334.4" r="1.1" fill="#0f0"/><circle cx="655.5" cy="335.3" r="1.1" fill="#0f0"/><circle cx="657.5" cy="336.1" r="1.1" fill="#0f0"/><circle cx="659.5" cy="337.0" r="1.1" fill="#0f0"/><circle cx="661.5" cy="337.9" r="1.1" fill="#0f0"/><circle cx="663.5" cy="338.9" r="1.1" fill="#0f0"/><circle cx="665.4" cy="339.9" r="1.1" fill="#0f0"/><circle cx="667.4" cy="340.9" r="1.1" fill="#0f0"/><circle cx="582" cy="269.6" r="1.3" fill="#c00"/><circle cx="582" cy="288.6" r="1.3" fill="#0c0"/>
<path d="M501.5 383V380.5M547.8 383V380.5M594.7 383V380.5M640.4 383V380.5" stroke="#000" stroke-width="1.8"/>
<g font-size="15.8" text-anchor="middle">
<text x="500.8" y="401.3">536</text><text x="547.3" y="401.3">544</text><text x="593.8" y="401.3">552</text><text x="640.3" y="401.3">560</text>
</g>
<text x="575" y="416.5" font-size="16.5" text-anchor="middle">E(eV)</text>
<text x="564.6" y="253.2" font-size="12.3" textLength="86" lengthAdjust="spacing">(ZnO:Er-ZnO)</text>
<g stroke-width="1.5" fill="none">
<path d="M570.3 269.6H593.8" stroke="#f00"/>
<path d="M570.3 288.6H593.8" stroke="#0f0"/>
</g>
<g font-size="13.8">
<text x="597.8" y="272.5" textLength="58.8" lengthAdjust="spacing">Sapphire</text>
<text x="597.8" y="292" textLength="42.6" lengthAdjust="spacing">Silicon</text>
</g>
<g font-size="15.5">
<text x="476.5" y="294.9">A'</text>
<text x="485.8" y="260.8">B'</text>
<text x="514.3" y="250.2">C'</text>
<text x="529.5" y="313.5">D'</text>
<text x="560.5" y="335.3">E'</text>
<text x="613" y="326.7">F'</text>
<text x="636.5" y="323.9">G'</text>
</g>
</g>
</svg>
</body></html>
